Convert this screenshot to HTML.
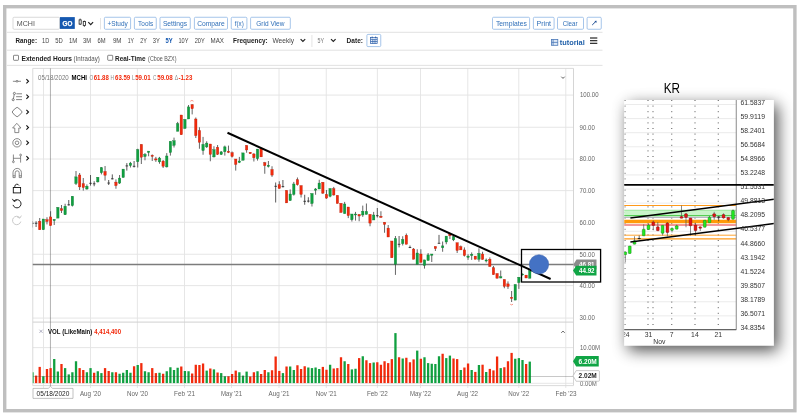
<!DOCTYPE html><html><head><meta charset="utf-8"><style>html,body{margin:0;padding:0;background:#fff;overflow:hidden}svg{display:block;filter:blur(0.3px)}text{font-family:"Liberation Sans",sans-serif}</style></head><body>
<svg width="800" height="415" viewBox="0 0 800 415">
<defs><filter id="sh" x="-30%" y="-20%" width="170%" height="150%"><feGaussianBlur in="SourceAlpha" stdDeviation="8"/><feOffset dx="3.5" dy="4.5"/><feComponentTransfer><feFuncA type="linear" slope="0.7"/></feComponentTransfer><feMerge><feMergeNode/><feMergeNode in="SourceGraphic"/></feMerge></filter>
<clipPath id="cc"><rect x="32.75" y="68.4" width="540.75" height="317.5"/></clipPath>
<clipPath id="kc"><rect x="624.25" y="100" width="149.5" height="245.5"/></clipPath></defs>
<rect x="0.00" y="0.00" width="800.00" height="415.00" fill="#fff" stroke="none" stroke-width="1" rx="0" />
<rect x="4.70" y="6.70" width="790.20" height="404.00" fill="none" stroke="#bfbfbf" stroke-width="3.4" rx="0" />
<line x1="7.00" y1="32.30" x2="602.50" y2="32.30" stroke="#dedede" stroke-width="0.9" />
<line x1="7.00" y1="50.20" x2="602.50" y2="50.20" stroke="#dedede" stroke-width="0.9" />
<line x1="7.00" y1="65.40" x2="602.50" y2="65.40" stroke="#dedede" stroke-width="0.9" />
<rect x="13.00" y="17.25" width="46.50" height="12.00" fill="#fff" stroke="#cfcfcf" stroke-width="0.8" rx="1.1" />
<text x="16.75" y="25.80" font-size="7.4" fill="#555" font-weight="normal" text-anchor="start" textLength="18.10" lengthAdjust="spacingAndGlyphs" >MCHI</text>
<rect x="59.90" y="17.10" width="14.90" height="11.80" fill="#1558b0" stroke="none" stroke-width="1" rx="0" />
<text x="62.50" y="26.00" font-size="7" fill="#fff" font-weight="bold" text-anchor="start" textLength="9.80" lengthAdjust="spacingAndGlyphs" stroke="#fff" stroke-width="0.25">GO</text>
<g stroke="#222" stroke-width="0.8" fill="#fff"><line x1="80.15" y1="18.6" x2="80.15" y2="25"/><rect x="79.1" y="19.9" width="2.1" height="4.2"/><line x1="84.35" y1="20.6" x2="84.35" y2="26.8"/><rect x="83.25" y="21.5" width="2.2" height="3.9"/></g>
<polyline points="88.3,22.2 90.7,24.6 93.1,22.2" fill="none" stroke="#222" stroke-width="1.2"/>
<line x1="100.50" y1="18.00" x2="100.50" y2="29.50" stroke="#ddd" stroke-width="0.8" />
<rect x="104.40" y="17.25" width="26.20" height="12.00" fill="#fff" stroke="#8fb6e4" stroke-width="0.8" rx="1.1" />
<text x="107.50" y="25.90" font-size="7.5" fill="#2f6fb8" font-weight="normal" text-anchor="start" textLength="20.25" lengthAdjust="spacingAndGlyphs" >+Study</text>
<rect x="134.40" y="17.25" width="21.85" height="12.00" fill="#fff" stroke="#8fb6e4" stroke-width="0.8" rx="1.1" />
<text x="138.10" y="25.90" font-size="7.5" fill="#2f6fb8" font-weight="normal" text-anchor="start" textLength="15.00" lengthAdjust="spacingAndGlyphs" >Tools</text>
<rect x="160.00" y="17.25" width="30.25" height="12.00" fill="#fff" stroke="#8fb6e4" stroke-width="0.8" rx="1.1" />
<text x="162.90" y="25.90" font-size="7.5" fill="#2f6fb8" font-weight="normal" text-anchor="start" textLength="24.20" lengthAdjust="spacingAndGlyphs" >Settings</text>
<rect x="194.40" y="17.25" width="33.10" height="12.00" fill="#fff" stroke="#8fb6e4" stroke-width="0.8" rx="1.1" />
<text x="197.25" y="25.90" font-size="7.5" fill="#2f6fb8" font-weight="normal" text-anchor="start" textLength="27.50" lengthAdjust="spacingAndGlyphs" >Compare</text>
<rect x="231.25" y="17.25" width="15.65" height="12.00" fill="#fff" stroke="#8fb6e4" stroke-width="0.8" rx="1.1" />
<text x="234.75" y="25.90" font-size="7.5" fill="#2f6fb8" font-weight="normal" text-anchor="start" textLength="9.00" lengthAdjust="spacingAndGlyphs" >f(x)</text>
<rect x="250.60" y="17.25" width="39.70" height="12.00" fill="#fff" stroke="#8fb6e4" stroke-width="0.8" rx="1.1" />
<text x="256.25" y="25.90" font-size="7.5" fill="#2f6fb8" font-weight="normal" text-anchor="start" textLength="28.15" lengthAdjust="spacingAndGlyphs" >Grid View</text>
<rect x="492.50" y="17.25" width="37.10" height="12.00" fill="#fff" stroke="#8fb6e4" stroke-width="0.8" rx="1.1" />
<text x="495.90" y="25.90" font-size="7.5" fill="#2f6fb8" font-weight="normal" text-anchor="start" textLength="30.90" lengthAdjust="spacingAndGlyphs" >Templates</text>
<rect x="533.40" y="17.25" width="20.70" height="12.00" fill="#fff" stroke="#8fb6e4" stroke-width="0.8" rx="1.1" />
<text x="536.60" y="25.90" font-size="7.5" fill="#2f6fb8" font-weight="normal" text-anchor="start" textLength="14.40" lengthAdjust="spacingAndGlyphs" >Print</text>
<rect x="557.50" y="17.25" width="26.00" height="12.00" fill="#fff" stroke="#8fb6e4" stroke-width="0.8" rx="1.1" />
<text x="562.75" y="25.90" font-size="7.5" fill="#2f6fb8" font-weight="normal" text-anchor="start" textLength="14.75" lengthAdjust="spacingAndGlyphs" >Clear</text>
<rect x="587.10" y="17.25" width="14.15" height="12.00" fill="#fff" stroke="#8fb6e4" stroke-width="0.8" rx="1.1" />
<path d="M592.2,25 L596,21.3" stroke="#1f4f95" stroke-width="1" fill="none"/><path d="M594.4,20.9 L596.6,20.7 L596.4,22.9 Z" fill="#1f4f95"/>
<text x="15.50" y="43.30" font-size="7.5" fill="#222" font-weight="bold" text-anchor="start" textLength="21.50" lengthAdjust="spacingAndGlyphs" >Range:</text>
<text x="42.00" y="43.40" font-size="7.5" fill="#444" font-weight="normal" text-anchor="start" textLength="7.25" lengthAdjust="spacingAndGlyphs" >1D</text>
<text x="55.25" y="43.40" font-size="7.5" fill="#444" font-weight="normal" text-anchor="start" textLength="7.50" lengthAdjust="spacingAndGlyphs" >5D</text>
<text x="69.00" y="43.40" font-size="7.5" fill="#444" font-weight="normal" text-anchor="start" textLength="8.40" lengthAdjust="spacingAndGlyphs" >1M</text>
<text x="83.00" y="43.40" font-size="7.5" fill="#444" font-weight="normal" text-anchor="start" textLength="8.00" lengthAdjust="spacingAndGlyphs" >3M</text>
<text x="97.40" y="43.40" font-size="7.5" fill="#444" font-weight="normal" text-anchor="start" textLength="8.10" lengthAdjust="spacingAndGlyphs" >6M</text>
<text x="112.90" y="43.40" font-size="7.5" fill="#444" font-weight="normal" text-anchor="start" textLength="8.60" lengthAdjust="spacingAndGlyphs" >9M</text>
<text x="127.75" y="43.40" font-size="7.5" fill="#444" font-weight="normal" text-anchor="start" textLength="6.25" lengthAdjust="spacingAndGlyphs" >1Y</text>
<text x="140.25" y="43.40" font-size="7.5" fill="#444" font-weight="normal" text-anchor="start" textLength="6.65" lengthAdjust="spacingAndGlyphs" >2Y</text>
<text x="152.75" y="43.40" font-size="7.5" fill="#444" font-weight="normal" text-anchor="start" textLength="7.00" lengthAdjust="spacingAndGlyphs" >3Y</text>
<text x="178.50" y="43.40" font-size="7.5" fill="#444" font-weight="normal" text-anchor="start" textLength="10.00" lengthAdjust="spacingAndGlyphs" >10Y</text>
<text x="194.75" y="43.40" font-size="7.5" fill="#444" font-weight="normal" text-anchor="start" textLength="10.00" lengthAdjust="spacingAndGlyphs" >20Y</text>
<text x="210.60" y="43.40" font-size="7.5" fill="#444" font-weight="normal" text-anchor="start" textLength="13.40" lengthAdjust="spacingAndGlyphs" >MAX</text>
<text x="165.60" y="43.30" font-size="7.5" fill="#1558b0" font-weight="bold" text-anchor="start" textLength="7.15" lengthAdjust="spacingAndGlyphs" >5Y</text>
<text x="233.10" y="43.30" font-size="7.5" fill="#222" font-weight="bold" text-anchor="start" textLength="34.65" lengthAdjust="spacingAndGlyphs" >Frequency:</text>
<text x="272.50" y="43.30" font-size="7.5" fill="#444" font-weight="normal" text-anchor="start" textLength="21.50" lengthAdjust="spacingAndGlyphs" >Weekly</text>
<polyline points="300.6,39.2 302.9,41.5 305.2,39.2" fill="none" stroke="#222" stroke-width="1.2"/>
<line x1="311.90" y1="35.00" x2="311.90" y2="47.00" stroke="#ddd" stroke-width="0.8" />
<text x="317.50" y="43.30" font-size="7" fill="#777" font-weight="normal" text-anchor="start" textLength="6.50" lengthAdjust="spacingAndGlyphs" >5Y</text>
<polyline points="331.0,39.2 333.3,41.5 335.6,39.2" fill="none" stroke="#222" stroke-width="1.2"/>
<text x="346.60" y="43.30" font-size="7.5" fill="#222" font-weight="bold" text-anchor="start" textLength="16.40" lengthAdjust="spacingAndGlyphs" >Date:</text>
<rect x="366.90" y="34.40" width="13.85" height="12.20" fill="#fff" stroke="#8fb6e4" stroke-width="0.8" rx="1.1" />
<g stroke="#2a5da8" stroke-width="0.7" fill="none"><rect x="370.6" y="37.6" width="6.6" height="6" fill="#e8f0fb"/><line x1="370.6" y1="39.4" x2="377.2" y2="39.4"/><line x1="372.8" y1="39.4" x2="372.8" y2="43.6"/><line x1="375" y1="39.4" x2="375" y2="43.6"/><line x1="370.6" y1="41.5" x2="377.2" y2="41.5"/><line x1="372.2" y1="36.6" x2="372.2" y2="38.2" stroke-width="1"/><line x1="375.6" y1="36.6" x2="375.6" y2="38.2" stroke-width="1"/></g>
<g stroke="#4a78b8" stroke-width="0.8" fill="#dfe9f6"><rect x="551.6" y="39.5" width="6.2" height="5.8"/><line x1="551.6" y1="42.4" x2="557.8" y2="42.4"/><line x1="553.1" y1="39.5" x2="553.1" y2="45.3"/></g>
<text x="559.75" y="45.00" font-size="7.5" fill="#1f5fa8" font-weight="bold" text-anchor="start" textLength="25.00" lengthAdjust="spacingAndGlyphs" >tutorial</text>
<line x1="590.00" y1="38.00" x2="597.30" y2="38.00" stroke="#111" stroke-width="1.1" />
<line x1="590.00" y1="40.70" x2="597.30" y2="40.70" stroke="#111" stroke-width="1.1" />
<line x1="590.00" y1="43.30" x2="597.30" y2="43.30" stroke="#111" stroke-width="1.1" />
<rect x="13.50" y="55.30" width="5.00" height="5.00" fill="#fff" stroke="#555" stroke-width="0.7" rx="0.6" />
<text x="21.50" y="60.60" font-size="7.5" fill="#222" font-weight="bold" text-anchor="start" textLength="50.50" lengthAdjust="spacingAndGlyphs" >Extended Hours</text>
<text x="73.60" y="60.50" font-size="6.5" fill="#555" font-weight="normal" text-anchor="start" textLength="26.30" lengthAdjust="spacingAndGlyphs" >(Intraday)</text>
<rect x="107.70" y="55.30" width="5.00" height="5.00" fill="#fff" stroke="#555" stroke-width="0.7" rx="0.6" />
<text x="115.00" y="60.60" font-size="7.5" fill="#222" font-weight="bold" text-anchor="start" textLength="30.60" lengthAdjust="spacingAndGlyphs" >Real-Time</text>
<text x="148.10" y="60.50" font-size="6.5" fill="#555" font-weight="normal" text-anchor="start" textLength="28.40" lengthAdjust="spacingAndGlyphs" >(Cboe BZX)</text>
<polyline points="26.4,79.20 28.5,81.30 26.4,83.40" fill="none" stroke="#111" stroke-width="1.1"/>
<polyline points="26.4,94.60 28.5,96.70 26.4,98.80" fill="none" stroke="#111" stroke-width="1.1"/>
<polyline points="26.4,109.90 28.5,112.00 26.4,114.10" fill="none" stroke="#111" stroke-width="1.1"/>
<polyline points="26.4,125.40 28.5,127.50 26.4,129.60" fill="none" stroke="#111" stroke-width="1.1"/>
<polyline points="26.4,140.70 28.5,142.80 26.4,144.90" fill="none" stroke="#111" stroke-width="1.1"/>
<polyline points="26.4,156.20 28.5,158.30 26.4,160.40" fill="none" stroke="#111" stroke-width="1.1"/>
<g stroke="#5a5a5a" stroke-width="0.7" fill="#fff"><line x1="12.9" y1="81.3" x2="21" y2="81.3"/><circle cx="17" cy="81.3" r="0.9"/></g>
<g stroke="#5a5a5a" stroke-width="0.75" fill="#fff"><line x1="13.3" y1="99.2" x2="14.3" y2="94"/><circle cx="13.2" cy="99.7" r="1.05"/><circle cx="14.4" cy="93.4" r="1.05"/><line x1="16.4" y1="93.8" x2="22" y2="93.8"/><line x1="16.1" y1="96.7" x2="22" y2="96.7"/><line x1="16.1" y1="99.6" x2="22" y2="99.6"/></g>
<g stroke="#5a5a5a" stroke-width="0.75" fill="#fff"><path d="M12.1,112 Q14.2,108.6 17.1,107.3 Q20,108.6 22.2,112 Q20,115.4 17.1,116.8 Q14.2,115.4 12.1,112 Z"/></g>
<path d="M16.8,123.3 L21,128 L18.8,128 L18.8,132.6 L14.8,132.6 L14.8,128 L12.6,128 Z" fill="#fff" stroke="#5a5a5a" stroke-width="0.7"/>
<g stroke="#5a5a5a" stroke-width="0.7" fill="#fff"><circle cx="17" cy="142.8" r="4.2"/><circle cx="17" cy="142.8" r="1.8"/></g>
<g stroke="#5a5a5a" stroke-width="0.7" fill="#fff"><line x1="13.4" y1="154.5" x2="13.4" y2="161"/><circle cx="13.4" cy="161.8" r="0.9"/><line x1="20.6" y1="155.8" x2="20.6" y2="162.6"/><circle cx="20.6" cy="155" r="0.9"/><line x1="13.4" y1="158.3" x2="20.6" y2="158.3"/></g>
<g stroke="#5a5a5a" stroke-width="0.7" fill="none"><path d="M13,177.6 L13,172.6 A4.2,4.2 0 0 1 21.4,172.6 L21.4,177.6 L19.2,177.6 L19.2,172.8 A2,2 0 0 0 15.2,172.8 L15.2,177.6 Z"/><line x1="13" y1="175.8" x2="15.2" y2="175.8"/><line x1="19.2" y1="175.8" x2="21.4" y2="175.8"/></g>
<g stroke="#111" stroke-width="0.9" fill="none"><rect x="13.3" y="187.5" width="7.3" height="5.4"/><path d="M14.8,187.5 L14.8,186.2 A2.2,2.2 0 0 1 19,185.5"/></g>
<g stroke="#111" stroke-width="0.9" fill="none"><path d="M14.0,200.9 A4.1,4.1 0 1 1 13.0,204.9"/><path d="M12.4,198.9 L14.0,201.5 L16.6,200.3" stroke-width="0.9"/></g>
<g stroke="#c4c4c4" stroke-width="0.9" fill="none"><path d="M19.8,217.6 A4.2,4.2 0 1 0 20.8,221.6"/><path d="M21.4,215.6 L19.8,218.2 L17.2,217"/></g>
<line x1="32.75" y1="95.10" x2="573.50" y2="95.10" stroke="#e3e3e3" stroke-width="0.9" />
<line x1="32.75" y1="127.25" x2="573.50" y2="127.25" stroke="#e3e3e3" stroke-width="0.9" />
<line x1="32.75" y1="159.00" x2="573.50" y2="159.00" stroke="#e3e3e3" stroke-width="0.9" />
<line x1="32.75" y1="190.60" x2="573.50" y2="190.60" stroke="#e3e3e3" stroke-width="0.9" />
<line x1="32.75" y1="222.25" x2="573.50" y2="222.25" stroke="#e3e3e3" stroke-width="0.9" />
<line x1="32.75" y1="254.25" x2="573.50" y2="254.25" stroke="#e3e3e3" stroke-width="0.9" />
<line x1="32.75" y1="285.60" x2="573.50" y2="285.60" stroke="#e3e3e3" stroke-width="0.9" />
<line x1="32.75" y1="318.10" x2="573.50" y2="318.10" stroke="#e3e3e3" stroke-width="0.9" />
<line x1="32.75" y1="347.60" x2="573.50" y2="347.60" stroke="#e3e3e3" stroke-width="0.9" />
<line x1="43.50" y1="68.40" x2="43.50" y2="388.00" stroke="#e3e3e3" stroke-width="0.9" />
<line x1="90.50" y1="68.40" x2="90.50" y2="388.00" stroke="#e3e3e3" stroke-width="0.9" />
<line x1="137.40" y1="68.40" x2="137.40" y2="388.00" stroke="#e3e3e3" stroke-width="0.9" />
<line x1="184.50" y1="68.40" x2="184.50" y2="388.00" stroke="#e3e3e3" stroke-width="0.9" />
<line x1="231.50" y1="68.40" x2="231.50" y2="388.00" stroke="#e3e3e3" stroke-width="0.9" />
<line x1="279.00" y1="68.40" x2="279.00" y2="388.00" stroke="#e3e3e3" stroke-width="0.9" />
<line x1="326.25" y1="68.40" x2="326.25" y2="388.00" stroke="#e3e3e3" stroke-width="0.9" />
<line x1="377.40" y1="68.40" x2="377.40" y2="388.00" stroke="#e3e3e3" stroke-width="0.9" />
<line x1="420.50" y1="68.40" x2="420.50" y2="388.00" stroke="#e3e3e3" stroke-width="0.9" />
<line x1="467.80" y1="68.40" x2="467.80" y2="388.00" stroke="#e3e3e3" stroke-width="0.9" />
<line x1="518.75" y1="68.40" x2="518.75" y2="388.00" stroke="#e3e3e3" stroke-width="0.9" />
<line x1="565.80" y1="68.40" x2="565.80" y2="388.00" stroke="#e3e3e3" stroke-width="0.9" />
<line x1="32.75" y1="68.40" x2="573.50" y2="68.40" stroke="#d6d6d6" stroke-width="0.9" />
<line x1="32.75" y1="68.40" x2="32.75" y2="385.60" stroke="#d6d6d6" stroke-width="0.9" />
<line x1="573.50" y1="68.40" x2="573.50" y2="385.60" stroke="#d0d0d0" stroke-width="0.9" />
<line x1="32.75" y1="322.10" x2="573.50" y2="322.10" stroke="#d0d0d0" stroke-width="1" />
<line x1="32.75" y1="383.30" x2="573.50" y2="383.30" stroke="#e0e0e0" stroke-width="0.8" />
<line x1="32.75" y1="385.60" x2="573.50" y2="385.60" stroke="#d6d6d6" stroke-width="0.9" />
<line x1="50.45" y1="68.40" x2="50.45" y2="388.00" stroke="#555" stroke-width="0.45" />
<line x1="32.75" y1="264.50" x2="573.50" y2="264.50" stroke="#7c7c7c" stroke-width="1.3" />
<g clip-path="url(#cc)">
<rect x="31.30" y="372.25" width="2.30" height="10.85" fill="#10a040" stroke="none" stroke-width="1" rx="0" />
<rect x="34.93" y="375.60" width="2.30" height="7.50" fill="#f22a0c" stroke="none" stroke-width="1" rx="0" />
<rect x="38.56" y="366.90" width="2.30" height="16.20" fill="#f22a0c" stroke="none" stroke-width="1" rx="0" />
<rect x="42.19" y="376.25" width="2.30" height="6.85" fill="#10a040" stroke="none" stroke-width="1" rx="0" />
<rect x="45.82" y="369.00" width="2.30" height="14.10" fill="#f22a0c" stroke="none" stroke-width="1" rx="0" />
<rect x="49.45" y="368.10" width="2.30" height="15.00" fill="#f22a0c" stroke="none" stroke-width="1" rx="0" />
<rect x="53.08" y="359.00" width="2.30" height="24.10" fill="#10a040" stroke="none" stroke-width="1" rx="0" />
<rect x="56.71" y="371.50" width="2.30" height="11.60" fill="#10a040" stroke="none" stroke-width="1" rx="0" />
<rect x="60.34" y="364.00" width="2.30" height="19.10" fill="#f22a0c" stroke="none" stroke-width="1" rx="0" />
<rect x="63.97" y="368.10" width="2.30" height="15.00" fill="#10a040" stroke="none" stroke-width="1" rx="0" />
<rect x="67.60" y="374.40" width="2.30" height="8.70" fill="#10a040" stroke="none" stroke-width="1" rx="0" />
<rect x="71.23" y="372.25" width="2.30" height="10.85" fill="#10a040" stroke="none" stroke-width="1" rx="0" />
<rect x="74.86" y="361.25" width="2.30" height="21.85" fill="#10a040" stroke="none" stroke-width="1" rx="0" />
<rect x="78.49" y="368.10" width="2.30" height="15.00" fill="#f22a0c" stroke="none" stroke-width="1" rx="0" />
<rect x="82.12" y="370.00" width="2.30" height="13.10" fill="#f22a0c" stroke="none" stroke-width="1" rx="0" />
<rect x="85.75" y="372.25" width="2.30" height="10.85" fill="#10a040" stroke="none" stroke-width="1" rx="0" />
<rect x="89.38" y="368.10" width="2.30" height="15.00" fill="#10a040" stroke="none" stroke-width="1" rx="0" />
<rect x="93.01" y="372.75" width="2.30" height="10.35" fill="#f22a0c" stroke="none" stroke-width="1" rx="0" />
<rect x="96.64" y="371.25" width="2.30" height="11.85" fill="#10a040" stroke="none" stroke-width="1" rx="0" />
<rect x="100.27" y="373.10" width="2.30" height="10.00" fill="#10a040" stroke="none" stroke-width="1" rx="0" />
<rect x="103.90" y="368.10" width="2.30" height="15.00" fill="#f22a0c" stroke="none" stroke-width="1" rx="0" />
<rect x="107.53" y="371.00" width="2.30" height="12.10" fill="#f22a0c" stroke="none" stroke-width="1" rx="0" />
<rect x="111.16" y="372.25" width="2.30" height="10.85" fill="#10a040" stroke="none" stroke-width="1" rx="0" />
<rect x="114.79" y="372.25" width="2.30" height="10.85" fill="#f22a0c" stroke="none" stroke-width="1" rx="0" />
<rect x="118.42" y="373.75" width="2.30" height="9.35" fill="#10a040" stroke="none" stroke-width="1" rx="0" />
<rect x="122.05" y="372.75" width="2.30" height="10.35" fill="#10a040" stroke="none" stroke-width="1" rx="0" />
<rect x="125.68" y="370.00" width="2.30" height="13.10" fill="#10a040" stroke="none" stroke-width="1" rx="0" />
<rect x="129.31" y="372.75" width="2.30" height="10.35" fill="#10a040" stroke="none" stroke-width="1" rx="0" />
<rect x="132.94" y="366.25" width="2.30" height="16.85" fill="#f22a0c" stroke="none" stroke-width="1" rx="0" />
<rect x="136.57" y="365.00" width="2.30" height="18.10" fill="#10a040" stroke="none" stroke-width="1" rx="0" />
<rect x="140.20" y="363.10" width="2.30" height="20.00" fill="#f22a0c" stroke="none" stroke-width="1" rx="0" />
<rect x="143.83" y="371.25" width="2.30" height="11.85" fill="#10a040" stroke="none" stroke-width="1" rx="0" />
<rect x="147.46" y="372.25" width="2.30" height="10.85" fill="#10a040" stroke="none" stroke-width="1" rx="0" />
<rect x="151.09" y="368.10" width="2.30" height="15.00" fill="#f22a0c" stroke="none" stroke-width="1" rx="0" />
<rect x="154.72" y="373.10" width="2.30" height="10.00" fill="#f22a0c" stroke="none" stroke-width="1" rx="0" />
<rect x="158.35" y="372.75" width="2.30" height="10.35" fill="#10a040" stroke="none" stroke-width="1" rx="0" />
<rect x="161.98" y="373.75" width="2.30" height="9.35" fill="#f22a0c" stroke="none" stroke-width="1" rx="0" />
<rect x="165.61" y="371.25" width="2.30" height="11.85" fill="#10a040" stroke="none" stroke-width="1" rx="0" />
<rect x="169.24" y="367.25" width="2.30" height="15.85" fill="#10a040" stroke="none" stroke-width="1" rx="0" />
<rect x="172.87" y="370.00" width="2.30" height="13.10" fill="#10a040" stroke="none" stroke-width="1" rx="0" />
<rect x="176.50" y="367.75" width="2.30" height="15.35" fill="#10a040" stroke="none" stroke-width="1" rx="0" />
<rect x="180.13" y="366.50" width="2.30" height="16.60" fill="#f22a0c" stroke="none" stroke-width="1" rx="0" />
<rect x="183.76" y="371.00" width="2.30" height="12.10" fill="#10a040" stroke="none" stroke-width="1" rx="0" />
<rect x="187.39" y="371.25" width="2.30" height="11.85" fill="#10a040" stroke="none" stroke-width="1" rx="0" />
<rect x="191.02" y="373.50" width="2.30" height="9.60" fill="#f22a0c" stroke="none" stroke-width="1" rx="0" />
<rect x="194.65" y="364.75" width="2.30" height="18.35" fill="#f22a0c" stroke="none" stroke-width="1" rx="0" />
<rect x="198.28" y="365.00" width="2.30" height="18.10" fill="#f22a0c" stroke="none" stroke-width="1" rx="0" />
<rect x="201.91" y="363.50" width="2.30" height="19.60" fill="#f22a0c" stroke="none" stroke-width="1" rx="0" />
<rect x="205.54" y="370.60" width="2.30" height="12.50" fill="#10a040" stroke="none" stroke-width="1" rx="0" />
<rect x="209.17" y="368.50" width="2.30" height="14.60" fill="#f22a0c" stroke="none" stroke-width="1" rx="0" />
<rect x="212.80" y="369.40" width="2.30" height="13.70" fill="#10a040" stroke="none" stroke-width="1" rx="0" />
<rect x="216.43" y="372.50" width="2.30" height="10.60" fill="#f22a0c" stroke="none" stroke-width="1" rx="0" />
<rect x="220.06" y="373.10" width="2.30" height="10.00" fill="#10a040" stroke="none" stroke-width="1" rx="0" />
<rect x="223.69" y="376.25" width="2.30" height="6.85" fill="#10a040" stroke="none" stroke-width="1" rx="0" />
<rect x="227.32" y="376.25" width="2.30" height="6.85" fill="#f22a0c" stroke="none" stroke-width="1" rx="0" />
<rect x="230.95" y="374.00" width="2.30" height="9.10" fill="#f22a0c" stroke="none" stroke-width="1" rx="0" />
<rect x="234.58" y="370.60" width="2.30" height="12.50" fill="#f22a0c" stroke="none" stroke-width="1" rx="0" />
<rect x="238.21" y="372.25" width="2.30" height="10.85" fill="#10a040" stroke="none" stroke-width="1" rx="0" />
<rect x="241.84" y="375.60" width="2.30" height="7.50" fill="#10a040" stroke="none" stroke-width="1" rx="0" />
<rect x="245.47" y="371.60" width="2.30" height="11.50" fill="#10a040" stroke="none" stroke-width="1" rx="0" />
<rect x="249.10" y="376.50" width="2.30" height="6.60" fill="#f22a0c" stroke="none" stroke-width="1" rx="0" />
<rect x="252.73" y="372.25" width="2.30" height="10.85" fill="#f22a0c" stroke="none" stroke-width="1" rx="0" />
<rect x="256.36" y="371.25" width="2.30" height="11.85" fill="#10a040" stroke="none" stroke-width="1" rx="0" />
<rect x="259.99" y="374.00" width="2.30" height="9.10" fill="#f22a0c" stroke="none" stroke-width="1" rx="0" />
<rect x="263.62" y="370.00" width="2.30" height="13.10" fill="#f22a0c" stroke="none" stroke-width="1" rx="0" />
<rect x="267.25" y="372.25" width="2.30" height="10.85" fill="#10a040" stroke="none" stroke-width="1" rx="0" />
<rect x="270.88" y="370.25" width="2.30" height="12.85" fill="#f22a0c" stroke="none" stroke-width="1" rx="0" />
<rect x="274.51" y="356.50" width="2.30" height="26.60" fill="#f22a0c" stroke="none" stroke-width="1" rx="0" />
<rect x="278.14" y="370.90" width="2.30" height="12.20" fill="#f22a0c" stroke="none" stroke-width="1" rx="0" />
<rect x="281.77" y="373.10" width="2.30" height="10.00" fill="#10a040" stroke="none" stroke-width="1" rx="0" />
<rect x="285.40" y="366.50" width="2.30" height="16.60" fill="#f22a0c" stroke="none" stroke-width="1" rx="0" />
<rect x="289.03" y="366.50" width="2.30" height="16.60" fill="#10a040" stroke="none" stroke-width="1" rx="0" />
<rect x="292.66" y="370.00" width="2.30" height="13.10" fill="#10a040" stroke="none" stroke-width="1" rx="0" />
<rect x="296.29" y="365.25" width="2.30" height="17.85" fill="#f22a0c" stroke="none" stroke-width="1" rx="0" />
<rect x="299.92" y="369.00" width="2.30" height="14.10" fill="#f22a0c" stroke="none" stroke-width="1" rx="0" />
<rect x="303.55" y="366.25" width="2.30" height="16.85" fill="#f22a0c" stroke="none" stroke-width="1" rx="0" />
<rect x="307.18" y="367.50" width="2.30" height="15.60" fill="#10a040" stroke="none" stroke-width="1" rx="0" />
<rect x="310.81" y="368.10" width="2.30" height="15.00" fill="#10a040" stroke="none" stroke-width="1" rx="0" />
<rect x="314.44" y="367.50" width="2.30" height="15.60" fill="#10a040" stroke="none" stroke-width="1" rx="0" />
<rect x="318.07" y="369.00" width="2.30" height="14.10" fill="#10a040" stroke="none" stroke-width="1" rx="0" />
<rect x="321.70" y="366.90" width="2.30" height="16.20" fill="#f22a0c" stroke="none" stroke-width="1" rx="0" />
<rect x="325.33" y="369.75" width="2.30" height="13.35" fill="#f22a0c" stroke="none" stroke-width="1" rx="0" />
<rect x="328.96" y="364.75" width="2.30" height="18.35" fill="#10a040" stroke="none" stroke-width="1" rx="0" />
<rect x="332.59" y="368.50" width="2.30" height="14.60" fill="#f22a0c" stroke="none" stroke-width="1" rx="0" />
<rect x="336.22" y="368.10" width="2.30" height="15.00" fill="#f22a0c" stroke="none" stroke-width="1" rx="0" />
<rect x="339.85" y="357.25" width="2.30" height="25.85" fill="#f22a0c" stroke="none" stroke-width="1" rx="0" />
<rect x="343.48" y="361.25" width="2.30" height="21.85" fill="#10a040" stroke="none" stroke-width="1" rx="0" />
<rect x="347.11" y="364.00" width="2.30" height="19.10" fill="#f22a0c" stroke="none" stroke-width="1" rx="0" />
<rect x="350.74" y="369.40" width="2.30" height="13.70" fill="#10a040" stroke="none" stroke-width="1" rx="0" />
<rect x="354.37" y="368.75" width="2.30" height="14.35" fill="#10a040" stroke="none" stroke-width="1" rx="0" />
<rect x="358.00" y="358.10" width="2.30" height="25.00" fill="#f22a0c" stroke="none" stroke-width="1" rx="0" />
<rect x="361.63" y="356.25" width="2.30" height="26.85" fill="#10a040" stroke="none" stroke-width="1" rx="0" />
<rect x="365.26" y="360.25" width="2.30" height="22.85" fill="#f22a0c" stroke="none" stroke-width="1" rx="0" />
<rect x="368.89" y="363.10" width="2.30" height="20.00" fill="#f22a0c" stroke="none" stroke-width="1" rx="0" />
<rect x="372.52" y="362.50" width="2.30" height="20.60" fill="#10a040" stroke="none" stroke-width="1" rx="0" />
<rect x="376.15" y="362.25" width="2.30" height="20.85" fill="#f22a0c" stroke="none" stroke-width="1" rx="0" />
<rect x="379.78" y="364.75" width="2.30" height="18.35" fill="#f22a0c" stroke="none" stroke-width="1" rx="0" />
<rect x="383.41" y="361.25" width="2.30" height="21.85" fill="#f22a0c" stroke="none" stroke-width="1" rx="0" />
<rect x="387.04" y="363.10" width="2.30" height="20.00" fill="#f22a0c" stroke="none" stroke-width="1" rx="0" />
<rect x="390.67" y="359.10" width="2.30" height="24.00" fill="#f22a0c" stroke="none" stroke-width="1" rx="0" />
<rect x="394.30" y="333.10" width="2.30" height="50.00" fill="#10a040" stroke="none" stroke-width="1" rx="0" />
<rect x="397.93" y="357.25" width="2.30" height="25.85" fill="#f22a0c" stroke="none" stroke-width="1" rx="0" />
<rect x="401.56" y="358.50" width="2.30" height="24.60" fill="#10a040" stroke="none" stroke-width="1" rx="0" />
<rect x="405.19" y="357.75" width="2.30" height="25.35" fill="#f22a0c" stroke="none" stroke-width="1" rx="0" />
<rect x="408.82" y="362.25" width="2.30" height="20.85" fill="#f22a0c" stroke="none" stroke-width="1" rx="0" />
<rect x="412.45" y="359.40" width="2.30" height="23.70" fill="#f22a0c" stroke="none" stroke-width="1" rx="0" />
<rect x="416.08" y="350.60" width="2.30" height="32.50" fill="#10a040" stroke="none" stroke-width="1" rx="0" />
<rect x="419.71" y="358.75" width="2.30" height="24.35" fill="#f22a0c" stroke="none" stroke-width="1" rx="0" />
<rect x="423.34" y="357.25" width="2.30" height="25.85" fill="#10a040" stroke="none" stroke-width="1" rx="0" />
<rect x="426.97" y="363.10" width="2.30" height="20.00" fill="#10a040" stroke="none" stroke-width="1" rx="0" />
<rect x="430.60" y="363.75" width="2.30" height="19.35" fill="#10a040" stroke="none" stroke-width="1" rx="0" />
<rect x="434.23" y="364.00" width="2.30" height="19.10" fill="#10a040" stroke="none" stroke-width="1" rx="0" />
<rect x="437.86" y="356.25" width="2.30" height="26.85" fill="#10a040" stroke="none" stroke-width="1" rx="0" />
<rect x="441.49" y="353.75" width="2.30" height="29.35" fill="#f22a0c" stroke="none" stroke-width="1" rx="0" />
<rect x="445.12" y="358.10" width="2.30" height="25.00" fill="#10a040" stroke="none" stroke-width="1" rx="0" />
<rect x="448.75" y="355.60" width="2.30" height="27.50" fill="#10a040" stroke="none" stroke-width="1" rx="0" />
<rect x="452.38" y="358.50" width="2.30" height="24.60" fill="#f22a0c" stroke="none" stroke-width="1" rx="0" />
<rect x="456.01" y="359.10" width="2.30" height="24.00" fill="#f22a0c" stroke="none" stroke-width="1" rx="0" />
<rect x="459.64" y="370.00" width="2.30" height="13.10" fill="#10a040" stroke="none" stroke-width="1" rx="0" />
<rect x="463.27" y="367.50" width="2.30" height="15.60" fill="#f22a0c" stroke="none" stroke-width="1" rx="0" />
<rect x="466.90" y="363.50" width="2.30" height="19.60" fill="#f22a0c" stroke="none" stroke-width="1" rx="0" />
<rect x="470.53" y="370.00" width="2.30" height="13.10" fill="#10a040" stroke="none" stroke-width="1" rx="0" />
<rect x="474.16" y="371.90" width="2.30" height="11.20" fill="#f22a0c" stroke="none" stroke-width="1" rx="0" />
<rect x="477.79" y="365.00" width="2.30" height="18.10" fill="#10a040" stroke="none" stroke-width="1" rx="0" />
<rect x="481.42" y="364.70" width="2.30" height="18.40" fill="#f22a0c" stroke="none" stroke-width="1" rx="0" />
<rect x="485.05" y="372.00" width="2.30" height="11.10" fill="#10a040" stroke="none" stroke-width="1" rx="0" />
<rect x="488.68" y="368.90" width="2.30" height="14.20" fill="#f22a0c" stroke="none" stroke-width="1" rx="0" />
<rect x="492.31" y="370.40" width="2.30" height="12.70" fill="#f22a0c" stroke="none" stroke-width="1" rx="0" />
<rect x="495.94" y="356.50" width="2.30" height="26.60" fill="#f22a0c" stroke="none" stroke-width="1" rx="0" />
<rect x="499.57" y="368.10" width="2.30" height="15.00" fill="#10a040" stroke="none" stroke-width="1" rx="0" />
<rect x="503.20" y="367.25" width="2.30" height="15.85" fill="#f22a0c" stroke="none" stroke-width="1" rx="0" />
<rect x="506.83" y="361.25" width="2.30" height="21.85" fill="#f22a0c" stroke="none" stroke-width="1" rx="0" />
<rect x="510.46" y="352.90" width="2.30" height="30.20" fill="#f22a0c" stroke="none" stroke-width="1" rx="0" />
<rect x="514.09" y="358.75" width="2.30" height="24.35" fill="#10a040" stroke="none" stroke-width="1" rx="0" />
<rect x="517.72" y="358.10" width="2.30" height="25.00" fill="#10a040" stroke="none" stroke-width="1" rx="0" />
<rect x="521.35" y="360.00" width="2.30" height="23.10" fill="#10a040" stroke="none" stroke-width="1" rx="0" />
<rect x="524.98" y="364.00" width="2.30" height="19.10" fill="#f22a0c" stroke="none" stroke-width="1" rx="0" />
<rect x="528.61" y="361.60" width="2.30" height="21.50" fill="#10a040" stroke="none" stroke-width="1" rx="0" />
<line x1="32.75" y1="376.40" x2="573.50" y2="376.40" stroke="#444" stroke-width="0.55" opacity="0.6"/>
<line x1="32.45" y1="221.00" x2="32.45" y2="227.50" stroke="#222" stroke-width="0.75" />
<line x1="31.15" y1="223.30" x2="33.75" y2="223.30" stroke="#222" stroke-width="0.8" />
<line x1="36.08" y1="221.25" x2="36.08" y2="227.00" stroke="#222" stroke-width="0.75" />
<line x1="34.78" y1="223.30" x2="37.38" y2="223.30" stroke="#222" stroke-width="0.8" />
<line x1="39.71" y1="218.00" x2="39.71" y2="229.75" stroke="#333" stroke-width="0.75" />
<rect x="38.51" y="221.25" width="2.40" height="8.50" fill="#f22a0c" stroke="#b81d08" stroke-width="0.35" rx="0" />
<line x1="43.34" y1="219.00" x2="43.34" y2="229.75" stroke="#333" stroke-width="0.75" />
<rect x="42.14" y="219.00" width="2.40" height="10.75" fill="#10a040" stroke="#0b7a30" stroke-width="0.35" rx="0" />
<line x1="46.97" y1="217.25" x2="46.97" y2="224.40" stroke="#333" stroke-width="0.75" />
<rect x="45.77" y="219.75" width="2.40" height="1.75" fill="#f22a0c" stroke="#b81d08" stroke-width="0.35" rx="0" />
<line x1="50.60" y1="211.25" x2="50.60" y2="225.60" stroke="#333" stroke-width="0.75" />
<rect x="49.40" y="216.90" width="2.40" height="8.70" fill="#f22a0c" stroke="#b81d08" stroke-width="0.35" rx="0" />
<line x1="54.23" y1="219.40" x2="54.23" y2="225.00" stroke="#333" stroke-width="0.75" />
<rect x="53.03" y="219.40" width="2.40" height="1.20" fill="#10a040" stroke="#0b7a30" stroke-width="0.35" rx="0" />
<line x1="57.86" y1="207.00" x2="57.86" y2="218.10" stroke="#333" stroke-width="0.75" />
<rect x="56.66" y="207.50" width="2.40" height="10.60" fill="#10a040" stroke="#0b7a30" stroke-width="0.35" rx="0" />
<line x1="61.49" y1="205.00" x2="61.49" y2="213.00" stroke="#333" stroke-width="0.75" />
<rect x="60.29" y="208.75" width="2.40" height="1.85" fill="#f22a0c" stroke="#b81d08" stroke-width="0.35" rx="0" />
<line x1="65.12" y1="203.75" x2="65.12" y2="214.75" stroke="#333" stroke-width="0.75" />
<rect x="63.92" y="206.25" width="2.40" height="8.50" fill="#10a040" stroke="#0b7a30" stroke-width="0.35" rx="0" />
<line x1="68.75" y1="200.00" x2="68.75" y2="205.60" stroke="#222" stroke-width="0.75" />
<line x1="67.45" y1="204.80" x2="70.05" y2="204.80" stroke="#222" stroke-width="0.8" />
<line x1="72.38" y1="196.25" x2="72.38" y2="206.50" stroke="#333" stroke-width="0.75" />
<rect x="71.18" y="196.25" width="2.40" height="9.35" fill="#10a040" stroke="#0b7a30" stroke-width="0.35" rx="0" />
<line x1="76.01" y1="171.00" x2="76.01" y2="185.00" stroke="#333" stroke-width="0.75" />
<rect x="74.81" y="176.90" width="2.40" height="6.60" fill="#10a040" stroke="#0b7a30" stroke-width="0.35" rx="0" />
<line x1="79.64" y1="173.00" x2="79.64" y2="190.00" stroke="#333" stroke-width="0.75" />
<rect x="78.44" y="175.00" width="2.40" height="11.90" fill="#f22a0c" stroke="#b81d08" stroke-width="0.35" rx="0" />
<line x1="83.27" y1="178.00" x2="83.27" y2="190.60" stroke="#333" stroke-width="0.75" />
<rect x="82.07" y="183.75" width="2.40" height="3.75" fill="#f22a0c" stroke="#b81d08" stroke-width="0.35" rx="0" />
<line x1="86.90" y1="184.40" x2="86.90" y2="189.75" stroke="#333" stroke-width="0.75" />
<rect x="85.70" y="186.25" width="2.40" height="2.75" fill="#10a040" stroke="#0b7a30" stroke-width="0.35" rx="0" />
<line x1="90.53" y1="175.00" x2="90.53" y2="185.60" stroke="#222" stroke-width="0.75" />
<line x1="89.23" y1="183.30" x2="91.83" y2="183.30" stroke="#222" stroke-width="0.8" />
<line x1="94.16" y1="181.25" x2="94.16" y2="186.25" stroke="#222" stroke-width="0.75" />
<line x1="92.86" y1="183.80" x2="95.46" y2="183.80" stroke="#222" stroke-width="0.8" />
<line x1="97.79" y1="177.25" x2="97.79" y2="182.50" stroke="#333" stroke-width="0.75" />
<rect x="96.59" y="177.25" width="2.40" height="4.65" fill="#10a040" stroke="#0b7a30" stroke-width="0.35" rx="0" />
<line x1="101.42" y1="167.00" x2="101.42" y2="174.40" stroke="#333" stroke-width="0.75" />
<rect x="100.22" y="167.75" width="2.40" height="5.00" fill="#10a040" stroke="#0b7a30" stroke-width="0.35" rx="0" />
<line x1="105.05" y1="166.00" x2="105.05" y2="180.60" stroke="#333" stroke-width="0.75" />
<rect x="103.85" y="171.50" width="2.40" height="3.75" fill="#f22a0c" stroke="#b81d08" stroke-width="0.35" rx="0" />
<line x1="108.68" y1="180.00" x2="108.68" y2="185.00" stroke="#222" stroke-width="0.75" />
<line x1="107.38" y1="183.05" x2="109.98" y2="183.05" stroke="#222" stroke-width="0.8" />
<line x1="112.31" y1="174.40" x2="112.31" y2="179.40" stroke="#222" stroke-width="0.75" />
<line x1="111.01" y1="178.80" x2="113.61" y2="178.80" stroke="#222" stroke-width="0.8" />
<line x1="115.94" y1="179.40" x2="115.94" y2="188.75" stroke="#333" stroke-width="0.75" />
<rect x="114.74" y="182.10" width="2.40" height="3.50" fill="#f22a0c" stroke="#b81d08" stroke-width="0.35" rx="0" />
<line x1="119.57" y1="175.00" x2="119.57" y2="184.00" stroke="#333" stroke-width="0.75" />
<rect x="118.37" y="178.10" width="2.40" height="5.00" fill="#10a040" stroke="#0b7a30" stroke-width="0.35" rx="0" />
<line x1="123.20" y1="169.10" x2="123.20" y2="177.50" stroke="#333" stroke-width="0.75" />
<rect x="122.00" y="169.10" width="2.40" height="8.40" fill="#10a040" stroke="#0b7a30" stroke-width="0.35" rx="0" />
<line x1="126.83" y1="163.10" x2="126.83" y2="170.60" stroke="#222" stroke-width="0.75" />
<line x1="125.53" y1="165.90" x2="128.13" y2="165.90" stroke="#222" stroke-width="0.8" />
<line x1="130.46" y1="161.90" x2="130.46" y2="167.50" stroke="#333" stroke-width="0.75" />
<rect x="129.26" y="163.10" width="2.40" height="2.50" fill="#10a040" stroke="#0b7a30" stroke-width="0.35" rx="0" />
<line x1="134.09" y1="161.00" x2="134.09" y2="167.50" stroke="#222" stroke-width="0.75" />
<line x1="132.79" y1="166.30" x2="135.39" y2="166.30" stroke="#222" stroke-width="0.8" />
<line x1="137.72" y1="148.75" x2="137.72" y2="167.50" stroke="#333" stroke-width="0.75" />
<rect x="136.52" y="149.75" width="2.40" height="11.95" fill="#10a040" stroke="#0b7a30" stroke-width="0.35" rx="0" />
<line x1="141.35" y1="144.40" x2="141.35" y2="164.00" stroke="#333" stroke-width="0.75" />
<rect x="140.15" y="144.40" width="2.40" height="12.80" fill="#f22a0c" stroke="#b81d08" stroke-width="0.35" rx="0" />
<line x1="144.98" y1="153.00" x2="144.98" y2="160.30" stroke="#333" stroke-width="0.75" />
<rect x="143.78" y="154.40" width="2.40" height="2.10" fill="#10a040" stroke="#0b7a30" stroke-width="0.35" rx="0" />
<line x1="148.61" y1="151.10" x2="148.61" y2="156.25" stroke="#333" stroke-width="0.75" />
<rect x="147.41" y="151.10" width="2.40" height="1.40" fill="#10a040" stroke="#0b7a30" stroke-width="0.35" rx="0" />
<line x1="152.24" y1="154.40" x2="152.24" y2="161.00" stroke="#333" stroke-width="0.75" />
<rect x="151.04" y="155.30" width="2.40" height="1.10" fill="#f22a0c" stroke="#b81d08" stroke-width="0.35" rx="0" />
<line x1="155.87" y1="156.90" x2="155.87" y2="161.90" stroke="#333" stroke-width="0.75" />
<rect x="154.67" y="158.90" width="2.40" height="1.10" fill="#f22a0c" stroke="#b81d08" stroke-width="0.35" rx="0" />
<line x1="159.50" y1="156.90" x2="159.50" y2="163.75" stroke="#333" stroke-width="0.75" />
<rect x="158.30" y="158.00" width="2.40" height="3.90" fill="#10a040" stroke="#0b7a30" stroke-width="0.35" rx="0" />
<line x1="163.13" y1="160.00" x2="163.13" y2="168.00" stroke="#333" stroke-width="0.75" />
<rect x="161.93" y="161.10" width="2.40" height="5.15" fill="#f22a0c" stroke="#b81d08" stroke-width="0.35" rx="0" />
<line x1="166.76" y1="153.10" x2="166.76" y2="167.50" stroke="#333" stroke-width="0.75" />
<rect x="165.56" y="156.00" width="2.40" height="10.90" fill="#10a040" stroke="#0b7a30" stroke-width="0.35" rx="0" />
<line x1="170.39" y1="141.40" x2="170.39" y2="155.60" stroke="#333" stroke-width="0.75" />
<rect x="169.19" y="141.40" width="2.40" height="11.10" fill="#10a040" stroke="#0b7a30" stroke-width="0.35" rx="0" />
<line x1="174.02" y1="137.60" x2="174.02" y2="147.50" stroke="#333" stroke-width="0.75" />
<rect x="172.82" y="140.80" width="2.40" height="4.50" fill="#10a040" stroke="#0b7a30" stroke-width="0.35" rx="0" />
<line x1="177.65" y1="121.90" x2="177.65" y2="131.25" stroke="#333" stroke-width="0.75" />
<rect x="176.45" y="123.75" width="2.40" height="7.50" fill="#10a040" stroke="#0b7a30" stroke-width="0.35" rx="0" />
<line x1="181.28" y1="115.00" x2="181.28" y2="134.75" stroke="#333" stroke-width="0.75" />
<rect x="180.08" y="115.00" width="2.40" height="19.75" fill="#f22a0c" stroke="#b81d08" stroke-width="0.35" rx="0" />
<line x1="184.91" y1="119.40" x2="184.91" y2="128.50" stroke="#333" stroke-width="0.75" />
<rect x="183.71" y="119.40" width="2.40" height="9.10" fill="#10a040" stroke="#0b7a30" stroke-width="0.35" rx="0" />
<line x1="188.54" y1="105.00" x2="188.54" y2="119.00" stroke="#333" stroke-width="0.75" />
<rect x="187.34" y="106.90" width="2.40" height="12.10" fill="#10a040" stroke="#0b7a30" stroke-width="0.35" rx="0" />
<line x1="192.17" y1="104.00" x2="192.17" y2="114.40" stroke="#333" stroke-width="0.75" />
<rect x="190.97" y="104.75" width="2.40" height="4.00" fill="#f22a0c" stroke="#b81d08" stroke-width="0.35" rx="0" />
<line x1="195.80" y1="117.50" x2="195.80" y2="138.00" stroke="#333" stroke-width="0.75" />
<rect x="194.60" y="119.00" width="2.40" height="16.60" fill="#f22a0c" stroke="#b81d08" stroke-width="0.35" rx="0" />
<line x1="199.43" y1="127.25" x2="199.43" y2="148.75" stroke="#333" stroke-width="0.75" />
<rect x="198.23" y="130.60" width="2.40" height="11.65" fill="#f22a0c" stroke="#b81d08" stroke-width="0.35" rx="0" />
<line x1="203.06" y1="136.90" x2="203.06" y2="154.75" stroke="#333" stroke-width="0.75" />
<rect x="201.86" y="144.40" width="2.40" height="6.20" fill="#10a040" stroke="#0b7a30" stroke-width="0.35" rx="0" />
<line x1="206.69" y1="141.25" x2="206.69" y2="148.00" stroke="#333" stroke-width="0.75" />
<rect x="205.49" y="143.10" width="2.40" height="3.80" fill="#10a040" stroke="#0b7a30" stroke-width="0.35" rx="0" />
<line x1="210.32" y1="144.00" x2="210.32" y2="161.25" stroke="#333" stroke-width="0.75" />
<rect x="209.12" y="144.00" width="2.40" height="10.40" fill="#f22a0c" stroke="#b81d08" stroke-width="0.35" rx="0" />
<line x1="213.95" y1="146.25" x2="213.95" y2="157.50" stroke="#333" stroke-width="0.75" />
<rect x="212.75" y="149.75" width="2.40" height="7.15" fill="#10a040" stroke="#0b7a30" stroke-width="0.35" rx="0" />
<line x1="217.58" y1="145.00" x2="217.58" y2="155.00" stroke="#333" stroke-width="0.75" />
<rect x="216.38" y="147.25" width="2.40" height="7.15" fill="#f22a0c" stroke="#b81d08" stroke-width="0.35" rx="0" />
<line x1="221.21" y1="151.00" x2="221.21" y2="155.00" stroke="#333" stroke-width="0.75" />
<rect x="220.01" y="151.90" width="2.40" height="2.50" fill="#10a040" stroke="#0b7a30" stroke-width="0.35" rx="0" />
<line x1="224.84" y1="145.60" x2="224.84" y2="155.60" stroke="#333" stroke-width="0.75" />
<rect x="223.64" y="146.90" width="2.40" height="4.80" fill="#10a040" stroke="#0b7a30" stroke-width="0.35" rx="0" />
<line x1="228.47" y1="145.60" x2="228.47" y2="153.10" stroke="#333" stroke-width="0.75" />
<rect x="227.27" y="151.25" width="2.40" height="1.25" fill="#f22a0c" stroke="#b81d08" stroke-width="0.35" rx="0" />
<line x1="232.10" y1="151.50" x2="232.10" y2="157.50" stroke="#333" stroke-width="0.75" />
<rect x="230.90" y="152.75" width="2.40" height="3.75" fill="#f22a0c" stroke="#b81d08" stroke-width="0.35" rx="0" />
<line x1="235.73" y1="159.00" x2="235.73" y2="170.60" stroke="#333" stroke-width="0.75" />
<rect x="234.53" y="159.00" width="2.40" height="5.40" fill="#f22a0c" stroke="#b81d08" stroke-width="0.35" rx="0" />
<line x1="239.36" y1="156.90" x2="239.36" y2="163.10" stroke="#333" stroke-width="0.75" />
<rect x="238.16" y="161.00" width="2.40" height="1.50" fill="#10a040" stroke="#0b7a30" stroke-width="0.35" rx="0" />
<line x1="242.99" y1="152.90" x2="242.99" y2="160.25" stroke="#333" stroke-width="0.75" />
<rect x="241.79" y="152.90" width="2.40" height="7.35" fill="#10a040" stroke="#0b7a30" stroke-width="0.35" rx="0" />
<line x1="246.62" y1="145.40" x2="246.62" y2="152.75" stroke="#333" stroke-width="0.75" />
<rect x="245.42" y="145.40" width="2.40" height="4.60" fill="#f22a0c" stroke="#b81d08" stroke-width="0.35" rx="0" />
<line x1="250.25" y1="152.25" x2="250.25" y2="153.75" stroke="#333" stroke-width="0.75" />
<rect x="249.05" y="152.25" width="2.40" height="1.50" fill="#f22a0c" stroke="#b81d08" stroke-width="0.35" rx="0" />
<line x1="253.88" y1="153.10" x2="253.88" y2="161.50" stroke="#333" stroke-width="0.75" />
<rect x="252.68" y="154.00" width="2.40" height="3.75" fill="#f22a0c" stroke="#b81d08" stroke-width="0.35" rx="0" />
<line x1="257.51" y1="149.10" x2="257.51" y2="160.60" stroke="#333" stroke-width="0.75" />
<rect x="256.31" y="149.10" width="2.40" height="9.65" fill="#10a040" stroke="#0b7a30" stroke-width="0.35" rx="0" />
<line x1="261.14" y1="148.75" x2="261.14" y2="156.90" stroke="#333" stroke-width="0.75" />
<rect x="259.94" y="148.75" width="2.40" height="8.15" fill="#f22a0c" stroke="#b81d08" stroke-width="0.35" rx="0" />
<line x1="264.77" y1="161.90" x2="264.77" y2="173.75" stroke="#333" stroke-width="0.75" />
<rect x="263.57" y="162.75" width="2.40" height="2.85" fill="#f22a0c" stroke="#b81d08" stroke-width="0.35" rx="0" />
<line x1="268.40" y1="161.00" x2="268.40" y2="167.50" stroke="#333" stroke-width="0.75" />
<rect x="267.20" y="165.25" width="2.40" height="1.25" fill="#10a040" stroke="#0b7a30" stroke-width="0.35" rx="0" />
<line x1="272.03" y1="166.25" x2="272.03" y2="176.90" stroke="#333" stroke-width="0.75" />
<rect x="270.83" y="169.50" width="2.40" height="5.60" fill="#f22a0c" stroke="#b81d08" stroke-width="0.35" rx="0" />
<line x1="275.66" y1="182.50" x2="275.66" y2="202.50" stroke="#222" stroke-width="0.75" />
<line x1="274.36" y1="186.30" x2="276.96" y2="186.30" stroke="#222" stroke-width="0.8" />
<line x1="279.29" y1="181.25" x2="279.29" y2="188.50" stroke="#333" stroke-width="0.75" />
<rect x="278.09" y="184.75" width="2.40" height="3.75" fill="#f22a0c" stroke="#b81d08" stroke-width="0.35" rx="0" />
<line x1="282.92" y1="180.00" x2="282.92" y2="187.50" stroke="#222" stroke-width="0.75" />
<line x1="281.62" y1="186.60" x2="284.22" y2="186.60" stroke="#222" stroke-width="0.8" />
<line x1="286.55" y1="190.40" x2="286.55" y2="202.90" stroke="#333" stroke-width="0.75" />
<rect x="285.35" y="190.40" width="2.40" height="12.50" fill="#f22a0c" stroke="#b81d08" stroke-width="0.35" rx="0" />
<line x1="290.18" y1="189.40" x2="290.18" y2="200.60" stroke="#333" stroke-width="0.75" />
<rect x="288.98" y="194.00" width="2.40" height="6.60" fill="#10a040" stroke="#0b7a30" stroke-width="0.35" rx="0" />
<line x1="293.81" y1="181.90" x2="293.81" y2="195.60" stroke="#333" stroke-width="0.75" />
<rect x="292.61" y="184.00" width="2.40" height="10.40" fill="#10a040" stroke="#0b7a30" stroke-width="0.35" rx="0" />
<line x1="297.44" y1="177.50" x2="297.44" y2="185.60" stroke="#333" stroke-width="0.75" />
<rect x="296.24" y="179.75" width="2.40" height="5.00" fill="#f22a0c" stroke="#b81d08" stroke-width="0.35" rx="0" />
<line x1="301.07" y1="185.60" x2="301.07" y2="197.50" stroke="#333" stroke-width="0.75" />
<rect x="299.87" y="185.60" width="2.40" height="8.80" fill="#f22a0c" stroke="#b81d08" stroke-width="0.35" rx="0" />
<line x1="304.70" y1="194.75" x2="304.70" y2="204.75" stroke="#222" stroke-width="0.75" />
<line x1="303.40" y1="201.30" x2="306.00" y2="201.30" stroke="#222" stroke-width="0.8" />
<line x1="308.33" y1="197.25" x2="308.33" y2="202.50" stroke="#222" stroke-width="0.75" />
<line x1="307.03" y1="201.10" x2="309.63" y2="201.10" stroke="#222" stroke-width="0.8" />
<line x1="311.96" y1="193.50" x2="311.96" y2="206.50" stroke="#333" stroke-width="0.75" />
<rect x="310.76" y="193.50" width="2.40" height="10.00" fill="#10a040" stroke="#0b7a30" stroke-width="0.35" rx="0" />
<line x1="315.59" y1="188.00" x2="315.59" y2="194.75" stroke="#333" stroke-width="0.75" />
<rect x="314.39" y="189.00" width="2.40" height="1.25" fill="#10a040" stroke="#0b7a30" stroke-width="0.35" rx="0" />
<line x1="319.22" y1="179.75" x2="319.22" y2="189.00" stroke="#333" stroke-width="0.75" />
<rect x="318.02" y="183.10" width="2.40" height="5.90" fill="#10a040" stroke="#0b7a30" stroke-width="0.35" rx="0" />
<line x1="322.85" y1="182.25" x2="322.85" y2="194.00" stroke="#333" stroke-width="0.75" />
<rect x="321.65" y="182.25" width="2.40" height="10.85" fill="#f22a0c" stroke="#b81d08" stroke-width="0.35" rx="0" />
<line x1="326.48" y1="190.00" x2="326.48" y2="198.75" stroke="#333" stroke-width="0.75" />
<rect x="325.28" y="194.40" width="2.40" height="3.70" fill="#f22a0c" stroke="#b81d08" stroke-width="0.35" rx="0" />
<line x1="330.11" y1="188.50" x2="330.11" y2="197.25" stroke="#333" stroke-width="0.75" />
<rect x="328.91" y="188.50" width="2.40" height="7.75" fill="#10a040" stroke="#0b7a30" stroke-width="0.35" rx="0" />
<line x1="333.74" y1="186.90" x2="333.74" y2="195.60" stroke="#333" stroke-width="0.75" />
<rect x="332.54" y="188.75" width="2.40" height="6.25" fill="#f22a0c" stroke="#b81d08" stroke-width="0.35" rx="0" />
<line x1="337.37" y1="195.40" x2="337.37" y2="203.50" stroke="#333" stroke-width="0.75" />
<rect x="336.17" y="195.40" width="2.40" height="8.10" fill="#f22a0c" stroke="#b81d08" stroke-width="0.35" rx="0" />
<line x1="341.00" y1="203.30" x2="341.00" y2="212.50" stroke="#333" stroke-width="0.75" />
<rect x="339.80" y="203.30" width="2.40" height="9.20" fill="#f22a0c" stroke="#b81d08" stroke-width="0.35" rx="0" />
<line x1="344.63" y1="201.90" x2="344.63" y2="213.60" stroke="#333" stroke-width="0.75" />
<rect x="343.43" y="204.00" width="2.40" height="9.60" fill="#10a040" stroke="#0b7a30" stroke-width="0.35" rx="0" />
<line x1="348.26" y1="207.00" x2="348.26" y2="218.10" stroke="#333" stroke-width="0.75" />
<rect x="347.06" y="207.00" width="2.40" height="8.60" fill="#f22a0c" stroke="#b81d08" stroke-width="0.35" rx="0" />
<line x1="351.89" y1="214.00" x2="351.89" y2="221.50" stroke="#333" stroke-width="0.75" />
<rect x="350.69" y="214.00" width="2.40" height="5.75" fill="#10a040" stroke="#0b7a30" stroke-width="0.35" rx="0" />
<line x1="355.52" y1="211.90" x2="355.52" y2="220.60" stroke="#333" stroke-width="0.75" />
<rect x="354.32" y="214.00" width="2.40" height="1.00" fill="#10a040" stroke="#0b7a30" stroke-width="0.35" rx="0" />
<line x1="359.15" y1="214.40" x2="359.15" y2="221.25" stroke="#333" stroke-width="0.75" />
<rect x="357.95" y="214.40" width="2.40" height="1.60" fill="#f22a0c" stroke="#b81d08" stroke-width="0.35" rx="0" />
<line x1="362.78" y1="205.60" x2="362.78" y2="216.90" stroke="#333" stroke-width="0.75" />
<rect x="361.58" y="211.25" width="2.40" height="3.75" fill="#10a040" stroke="#0b7a30" stroke-width="0.35" rx="0" />
<line x1="366.41" y1="203.50" x2="366.41" y2="214.40" stroke="#333" stroke-width="0.75" />
<rect x="365.21" y="211.50" width="2.40" height="2.90" fill="#10a040" stroke="#0b7a30" stroke-width="0.35" rx="0" />
<line x1="370.04" y1="214.40" x2="370.04" y2="226.25" stroke="#333" stroke-width="0.75" />
<rect x="368.84" y="214.40" width="2.40" height="8.70" fill="#f22a0c" stroke="#b81d08" stroke-width="0.35" rx="0" />
<line x1="373.67" y1="211.90" x2="373.67" y2="220.00" stroke="#333" stroke-width="0.75" />
<rect x="372.47" y="215.00" width="2.40" height="5.00" fill="#10a040" stroke="#0b7a30" stroke-width="0.35" rx="0" />
<line x1="377.30" y1="208.00" x2="377.30" y2="217.50" stroke="#222" stroke-width="0.75" />
<line x1="376.00" y1="215.70" x2="378.60" y2="215.70" stroke="#222" stroke-width="0.8" />
<line x1="380.93" y1="211.25" x2="380.93" y2="217.50" stroke="#333" stroke-width="0.75" />
<rect x="379.73" y="216.25" width="2.40" height="1.25" fill="#f22a0c" stroke="#b81d08" stroke-width="0.35" rx="0" />
<line x1="384.56" y1="222.25" x2="384.56" y2="232.75" stroke="#333" stroke-width="0.75" />
<rect x="383.36" y="222.25" width="2.40" height="2.15" fill="#f22a0c" stroke="#b81d08" stroke-width="0.35" rx="0" />
<line x1="388.19" y1="225.00" x2="388.19" y2="237.00" stroke="#333" stroke-width="0.75" />
<rect x="386.99" y="228.10" width="2.40" height="8.90" fill="#f22a0c" stroke="#b81d08" stroke-width="0.35" rx="0" />
<line x1="391.82" y1="241.00" x2="391.82" y2="257.75" stroke="#333" stroke-width="0.75" />
<rect x="390.62" y="241.00" width="2.40" height="16.75" fill="#f22a0c" stroke="#b81d08" stroke-width="0.35" rx="0" />
<line x1="395.45" y1="236.00" x2="395.45" y2="274.90" stroke="#333" stroke-width="0.75" />
<rect x="394.25" y="238.60" width="2.40" height="25.65" fill="#10a040" stroke="#0b7a30" stroke-width="0.35" rx="0" />
<line x1="399.08" y1="236.00" x2="399.08" y2="247.40" stroke="#222" stroke-width="0.75" />
<line x1="397.78" y1="244.30" x2="400.38" y2="244.30" stroke="#222" stroke-width="0.8" />
<line x1="402.71" y1="236.25" x2="402.71" y2="245.50" stroke="#333" stroke-width="0.75" />
<rect x="401.51" y="239.50" width="2.40" height="4.10" fill="#10a040" stroke="#0b7a30" stroke-width="0.35" rx="0" />
<line x1="406.34" y1="233.50" x2="406.34" y2="244.25" stroke="#333" stroke-width="0.75" />
<rect x="405.14" y="235.25" width="2.40" height="9.00" fill="#f22a0c" stroke="#b81d08" stroke-width="0.35" rx="0" />
<line x1="409.97" y1="245.50" x2="409.97" y2="248.10" stroke="#222" stroke-width="0.75" />
<line x1="408.67" y1="247.50" x2="411.27" y2="247.50" stroke="#222" stroke-width="0.8" />
<line x1="413.60" y1="248.00" x2="413.60" y2="259.25" stroke="#333" stroke-width="0.75" />
<rect x="412.40" y="249.00" width="2.40" height="10.25" fill="#f22a0c" stroke="#b81d08" stroke-width="0.35" rx="0" />
<line x1="417.23" y1="249.25" x2="417.23" y2="264.25" stroke="#333" stroke-width="0.75" />
<rect x="416.03" y="253.00" width="2.40" height="11.25" fill="#10a040" stroke="#0b7a30" stroke-width="0.35" rx="0" />
<line x1="420.86" y1="249.25" x2="420.86" y2="262.40" stroke="#333" stroke-width="0.75" />
<rect x="419.66" y="254.00" width="2.40" height="8.40" fill="#f22a0c" stroke="#b81d08" stroke-width="0.35" rx="0" />
<line x1="424.49" y1="259.90" x2="424.49" y2="268.60" stroke="#333" stroke-width="0.75" />
<rect x="423.29" y="259.90" width="2.40" height="5.60" fill="#10a040" stroke="#0b7a30" stroke-width="0.35" rx="0" />
<line x1="428.12" y1="253.00" x2="428.12" y2="260.50" stroke="#333" stroke-width="0.75" />
<rect x="426.92" y="254.90" width="2.40" height="5.60" fill="#10a040" stroke="#0b7a30" stroke-width="0.35" rx="0" />
<line x1="431.75" y1="254.00" x2="431.75" y2="262.00" stroke="#333" stroke-width="0.75" />
<rect x="430.55" y="254.00" width="2.40" height="1.25" fill="#10a040" stroke="#0b7a30" stroke-width="0.35" rx="0" />
<line x1="435.38" y1="246.50" x2="435.38" y2="251.00" stroke="#333" stroke-width="0.75" />
<rect x="434.18" y="246.50" width="2.40" height="2.10" fill="#f22a0c" stroke="#b81d08" stroke-width="0.35" rx="0" />
<line x1="439.01" y1="234.90" x2="439.01" y2="243.60" stroke="#222" stroke-width="0.75" />
<line x1="437.71" y1="243.30" x2="440.31" y2="243.30" stroke="#222" stroke-width="0.8" />
<line x1="442.64" y1="241.50" x2="442.64" y2="251.75" stroke="#333" stroke-width="0.75" />
<rect x="441.44" y="245.90" width="2.40" height="1.85" fill="#10a040" stroke="#0b7a30" stroke-width="0.35" rx="0" />
<line x1="446.27" y1="236.10" x2="446.27" y2="244.25" stroke="#333" stroke-width="0.75" />
<rect x="445.07" y="236.10" width="2.40" height="5.90" fill="#10a040" stroke="#0b7a30" stroke-width="0.35" rx="0" />
<line x1="449.90" y1="234.00" x2="449.90" y2="239.00" stroke="#333" stroke-width="0.75" />
<rect x="448.70" y="234.00" width="2.40" height="1.75" fill="#f22a0c" stroke="#b81d08" stroke-width="0.35" rx="0" />
<line x1="453.53" y1="235.50" x2="453.53" y2="241.10" stroke="#333" stroke-width="0.75" />
<rect x="452.33" y="236.75" width="2.40" height="3.15" fill="#10a040" stroke="#0b7a30" stroke-width="0.35" rx="0" />
<line x1="457.16" y1="242.75" x2="457.16" y2="253.00" stroke="#333" stroke-width="0.75" />
<rect x="455.96" y="242.75" width="2.40" height="7.75" fill="#f22a0c" stroke="#b81d08" stroke-width="0.35" rx="0" />
<line x1="460.79" y1="245.50" x2="460.79" y2="249.90" stroke="#333" stroke-width="0.75" />
<rect x="459.59" y="246.75" width="2.40" height="3.15" fill="#f22a0c" stroke="#b81d08" stroke-width="0.35" rx="0" />
<line x1="464.42" y1="247.40" x2="464.42" y2="256.50" stroke="#333" stroke-width="0.75" />
<rect x="463.22" y="249.90" width="2.40" height="5.60" fill="#f22a0c" stroke="#b81d08" stroke-width="0.35" rx="0" />
<line x1="468.05" y1="254.25" x2="468.05" y2="259.90" stroke="#333" stroke-width="0.75" />
<rect x="466.85" y="256.10" width="2.40" height="1.30" fill="#10a040" stroke="#0b7a30" stroke-width="0.35" rx="0" />
<line x1="471.68" y1="252.40" x2="471.68" y2="259.90" stroke="#333" stroke-width="0.75" />
<rect x="470.48" y="254.25" width="2.40" height="1.25" fill="#10a040" stroke="#0b7a30" stroke-width="0.35" rx="0" />
<line x1="475.31" y1="256.10" x2="475.31" y2="259.25" stroke="#333" stroke-width="0.75" />
<rect x="474.11" y="256.10" width="2.40" height="3.15" fill="#f22a0c" stroke="#b81d08" stroke-width="0.35" rx="0" />
<line x1="478.94" y1="248.30" x2="478.94" y2="261.75" stroke="#333" stroke-width="0.75" />
<rect x="477.74" y="253.40" width="2.40" height="5.85" fill="#10a040" stroke="#0b7a30" stroke-width="0.35" rx="0" />
<line x1="482.57" y1="251.75" x2="482.57" y2="259.50" stroke="#333" stroke-width="0.75" />
<rect x="481.37" y="254.00" width="2.40" height="5.50" fill="#f22a0c" stroke="#b81d08" stroke-width="0.35" rx="0" />
<line x1="486.20" y1="258.50" x2="486.20" y2="262.50" stroke="#333" stroke-width="0.75" />
<rect x="485.00" y="260.00" width="2.40" height="1.00" fill="#10a040" stroke="#0b7a30" stroke-width="0.35" rx="0" />
<line x1="489.83" y1="257.40" x2="489.83" y2="266.50" stroke="#333" stroke-width="0.75" />
<rect x="488.63" y="259.25" width="2.40" height="7.25" fill="#f22a0c" stroke="#b81d08" stroke-width="0.35" rx="0" />
<line x1="493.46" y1="266.00" x2="493.46" y2="274.70" stroke="#333" stroke-width="0.75" />
<rect x="492.26" y="267.80" width="2.40" height="6.90" fill="#f22a0c" stroke="#b81d08" stroke-width="0.35" rx="0" />
<line x1="497.09" y1="273.50" x2="497.09" y2="278.25" stroke="#333" stroke-width="0.75" />
<rect x="495.89" y="273.50" width="2.40" height="4.75" fill="#f22a0c" stroke="#b81d08" stroke-width="0.35" rx="0" />
<line x1="500.72" y1="270.50" x2="500.72" y2="278.25" stroke="#333" stroke-width="0.75" />
<rect x="499.52" y="276.75" width="2.40" height="1.25" fill="#10a040" stroke="#0b7a30" stroke-width="0.35" rx="0" />
<line x1="504.35" y1="279.50" x2="504.35" y2="288.25" stroke="#333" stroke-width="0.75" />
<rect x="503.15" y="279.50" width="2.40" height="6.90" fill="#f22a0c" stroke="#b81d08" stroke-width="0.35" rx="0" />
<line x1="507.98" y1="281.40" x2="507.98" y2="288.90" stroke="#333" stroke-width="0.75" />
<rect x="506.78" y="283.90" width="2.40" height="2.60" fill="#f22a0c" stroke="#b81d08" stroke-width="0.35" rx="0" />
<line x1="511.61" y1="291.00" x2="511.61" y2="302.00" stroke="#333" stroke-width="0.75" />
<rect x="510.41" y="297.25" width="2.40" height="1.25" fill="#f22a0c" stroke="#b81d08" stroke-width="0.35" rx="0" />
<line x1="515.24" y1="284.50" x2="515.24" y2="300.10" stroke="#333" stroke-width="0.75" />
<rect x="514.04" y="284.50" width="2.40" height="15.60" fill="#10a040" stroke="#0b7a30" stroke-width="0.35" rx="0" />
<line x1="518.87" y1="277.25" x2="518.87" y2="288.90" stroke="#333" stroke-width="0.75" />
<rect x="517.67" y="277.25" width="2.40" height="5.35" fill="#10a040" stroke="#0b7a30" stroke-width="0.35" rx="0" />
<line x1="522.50" y1="273.50" x2="522.50" y2="275.50" stroke="#333" stroke-width="0.75" />
<rect x="521.30" y="274.00" width="2.40" height="0.90" fill="#10a040" stroke="#0b7a30" stroke-width="0.35" rx="0" />
<line x1="526.13" y1="275.10" x2="526.13" y2="278.00" stroke="#333" stroke-width="0.75" />
<rect x="524.93" y="275.10" width="2.40" height="2.90" fill="#f22a0c" stroke="#b81d08" stroke-width="0.35" rx="0" />
<line x1="529.76" y1="270.75" x2="529.76" y2="278.25" stroke="#333" stroke-width="0.75" />
<rect x="528.56" y="270.75" width="2.40" height="7.50" fill="#10a040" stroke="#0b7a30" stroke-width="0.35" rx="0" />
</g>
<path d="M190.3,101.2 Q191.9,99.6 193.5,101.2" fill="none" stroke="#f22a0c" stroke-width="0.5"/>
<path d="M510.2,304.2 Q511.6,305.6 513,304.2" fill="none" stroke="#f22a0c" stroke-width="0.5"/>
<line x1="227.50" y1="132.75" x2="550.60" y2="279.00" stroke="#000" stroke-width="2" stroke-linecap="butt"/>
<rect x="521.50" y="249.50" width="79.10" height="32.50" fill="none" stroke="#000" stroke-width="1.3" rx="0" />
<circle cx="539" cy="264.4" r="9.7" fill="#4472c4" stroke="#3a63ad" stroke-width="0.5"/>
<text x="38.10" y="79.70" font-size="6.7" fill="#777" font-weight="normal" text-anchor="start" textLength="30.60" lengthAdjust="spacingAndGlyphs" >05/18/2020</text>
<text x="71.60" y="79.70" font-size="6.7" fill="#000" font-weight="bold" text-anchor="start" textLength="15.30" lengthAdjust="spacingAndGlyphs" >MCHI</text>
<text x="89.40" y="79.70" font-size="6.7" fill="#888" font-weight="normal" text-anchor="start" textLength="3.70" lengthAdjust="spacingAndGlyphs" >O</text>
<text x="93.75" y="79.70" font-size="6.7" fill="#f22a0c" font-weight="bold" text-anchor="start" textLength="15.00" lengthAdjust="spacingAndGlyphs" >61.88</text>
<text x="110.60" y="79.70" font-size="6.7" fill="#888" font-weight="normal" text-anchor="start" textLength="3.40" lengthAdjust="spacingAndGlyphs" >H</text>
<text x="115.00" y="79.70" font-size="6.7" fill="#f22a0c" font-weight="bold" text-anchor="start" textLength="15.20" lengthAdjust="spacingAndGlyphs" >63.59</text>
<text x="131.90" y="79.70" font-size="6.7" fill="#888" font-weight="normal" text-anchor="start" textLength="2.90" lengthAdjust="spacingAndGlyphs" >L</text>
<text x="135.20" y="79.70" font-size="6.7" fill="#f22a0c" font-weight="bold" text-anchor="start" textLength="15.40" lengthAdjust="spacingAndGlyphs" >59.01</text>
<text x="153.10" y="79.70" font-size="6.7" fill="#888" font-weight="normal" text-anchor="start" textLength="3.40" lengthAdjust="spacingAndGlyphs" >C</text>
<text x="157.20" y="79.70" font-size="6.7" fill="#f22a0c" font-weight="bold" text-anchor="start" textLength="15.50" lengthAdjust="spacingAndGlyphs" >59.08</text>
<text x="174.80" y="79.70" font-size="6.7" fill="#888" font-weight="normal" text-anchor="start" textLength="3.30" lengthAdjust="spacingAndGlyphs" >Δ</text>
<text x="178.40" y="79.70" font-size="6.7" fill="#f22a0c" font-weight="bold" text-anchor="start" textLength="14.00" lengthAdjust="spacingAndGlyphs" >-1.23</text>
<polyline points="561.3,76.7 563,78.4 564.7,76.7" fill="none" stroke="#333" stroke-width="0.8"/>
<polyline points="561.3,332.8 563,331.1 564.7,332.8" fill="none" stroke="#333" stroke-width="0.8"/>
<text x="580.00" y="97.40" font-size="6.7" fill="#666" font-weight="normal" text-anchor="start" textLength="18.50" lengthAdjust="spacingAndGlyphs" >100.00</text>
<text x="579.60" y="129.65" font-size="6.7" fill="#666" font-weight="normal" text-anchor="start" textLength="15.20" lengthAdjust="spacingAndGlyphs" >90.00</text>
<text x="579.60" y="161.40" font-size="6.7" fill="#666" font-weight="normal" text-anchor="start" textLength="15.20" lengthAdjust="spacingAndGlyphs" >80.00</text>
<text x="579.60" y="193.00" font-size="6.7" fill="#666" font-weight="normal" text-anchor="start" textLength="15.20" lengthAdjust="spacingAndGlyphs" >70.00</text>
<text x="579.60" y="224.65" font-size="6.7" fill="#666" font-weight="normal" text-anchor="start" textLength="15.20" lengthAdjust="spacingAndGlyphs" >60.00</text>
<text x="579.60" y="256.65" font-size="6.7" fill="#666" font-weight="normal" text-anchor="start" textLength="15.20" lengthAdjust="spacingAndGlyphs" >50.00</text>
<text x="579.60" y="288.15" font-size="6.7" fill="#666" font-weight="normal" text-anchor="start" textLength="15.20" lengthAdjust="spacingAndGlyphs" >40.00</text>
<text x="579.60" y="320.15" font-size="6.7" fill="#666" font-weight="normal" text-anchor="start" textLength="15.20" lengthAdjust="spacingAndGlyphs" >30.00</text>
<text x="580.00" y="349.90" font-size="6.7" fill="#666" font-weight="normal" text-anchor="start" textLength="20.00" lengthAdjust="spacingAndGlyphs" >10.00M</text>
<text x="580.00" y="386.15" font-size="6.7" fill="#666" font-weight="normal" text-anchor="start" textLength="16.80" lengthAdjust="spacingAndGlyphs" >0.00M</text>
<path d="M576.5,259.5 L596.5,259.5 L596.5,269.5 L576.5,269.5 L573.4,264.5 Z" fill="#8c8c8c"/>
<text x="579.00" y="267.20" font-size="6.5" fill="#fff" font-weight="bold" text-anchor="start" textLength="15.60" lengthAdjust="spacingAndGlyphs" >46.81</text>
<path d="M576.2,265.75 L596.5,265.75 L596.5,275.5 L576.2,275.5 L573,270.6 Z" fill="#10a545"/>
<text x="579.00" y="273.00" font-size="6.5" fill="#fff" font-weight="bold" text-anchor="start" textLength="15.60" lengthAdjust="spacingAndGlyphs" >44.92</text>
<path d="M576.2,356 L598.75,356 L598.75,366.5 L576.2,366.5 L573,361.25 Z" fill="#10a545"/>
<text x="578.60" y="363.60" font-size="6.5" fill="#fff" font-weight="bold" text-anchor="start" textLength="18.20" lengthAdjust="spacingAndGlyphs" >6.20M</text>
<path d="M576.2,370.6 L598.6,370.6 Q599.4,370.6 599.4,371.4 L599.4,380.4 Q599.4,381.25 598.6,381.25 L576.2,381.25 L573,375.9 Z" fill="#fff" stroke="#aaa" stroke-width="0.6"/>
<text x="578.60" y="378.30" font-size="6.5" fill="#222" font-weight="bold" text-anchor="start" textLength="18.20" lengthAdjust="spacingAndGlyphs" >2.02M</text>
<g stroke="#668" stroke-width="0.5"><line x1="39.4" y1="329.7" x2="42.6" y2="332.9"/><line x1="42.6" y1="329.7" x2="39.4" y2="332.9"/></g>
<text x="48.00" y="333.60" font-size="6.7" fill="#111" font-weight="bold" text-anchor="start" textLength="44.40" lengthAdjust="spacingAndGlyphs" >VOL (LikeMain)</text>
<text x="94.25" y="333.60" font-size="6.7" fill="#f22a0c" font-weight="bold" text-anchor="start" textLength="26.80" lengthAdjust="spacingAndGlyphs" >4,414,400</text>
<text x="79.90" y="395.80" font-size="6.9" fill="#666" font-weight="normal" text-anchor="start" textLength="21.00" lengthAdjust="spacingAndGlyphs" >Aug '20</text>
<text x="126.90" y="395.80" font-size="6.9" fill="#666" font-weight="normal" text-anchor="start" textLength="21.00" lengthAdjust="spacingAndGlyphs" >Nov '20</text>
<text x="174.00" y="395.80" font-size="6.9" fill="#666" font-weight="normal" text-anchor="start" textLength="21.00" lengthAdjust="spacingAndGlyphs" >Feb '21</text>
<text x="221.00" y="395.80" font-size="6.9" fill="#666" font-weight="normal" text-anchor="start" textLength="21.00" lengthAdjust="spacingAndGlyphs" >May '21</text>
<text x="268.50" y="395.80" font-size="6.9" fill="#666" font-weight="normal" text-anchor="start" textLength="21.00" lengthAdjust="spacingAndGlyphs" >Aug '21</text>
<text x="315.75" y="395.80" font-size="6.9" fill="#666" font-weight="normal" text-anchor="start" textLength="21.00" lengthAdjust="spacingAndGlyphs" >Nov '21</text>
<text x="366.90" y="395.80" font-size="6.9" fill="#666" font-weight="normal" text-anchor="start" textLength="21.00" lengthAdjust="spacingAndGlyphs" >Feb '22</text>
<text x="410.00" y="395.80" font-size="6.9" fill="#666" font-weight="normal" text-anchor="start" textLength="21.00" lengthAdjust="spacingAndGlyphs" >May '22</text>
<text x="457.10" y="395.80" font-size="6.9" fill="#666" font-weight="normal" text-anchor="start" textLength="21.00" lengthAdjust="spacingAndGlyphs" >Aug '22</text>
<text x="508.25" y="395.80" font-size="6.9" fill="#666" font-weight="normal" text-anchor="start" textLength="21.00" lengthAdjust="spacingAndGlyphs" >Nov '22</text>
<text x="555.50" y="395.80" font-size="6.9" fill="#666" font-weight="normal" text-anchor="start" textLength="21.00" lengthAdjust="spacingAndGlyphs" >Feb '23</text>
<path d="M33,388.4 L48.3,388.4 L50.45,386.3 L52.6,388.4 L73,388.4 L73,398.4 L33,398.4 Z" fill="#fff" stroke="#999" stroke-width="0.6"/>
<text x="36.60" y="396.00" font-size="7" fill="#222" font-weight="normal" text-anchor="start" textLength="32.80" lengthAdjust="spacingAndGlyphs" >05/18/2020</text>
<text x="663.75" y="93.00" font-size="14" fill="#000" font-weight="normal" text-anchor="start" textLength="16.30" lengthAdjust="spacingAndGlyphs" >KR</text>
<g filter="url(#sh)"><rect x="624.25" y="100" width="149.5" height="245.5" fill="#fff"/></g>
<g clip-path="url(#kc)">
<line x1="624.25" y1="104.50" x2="736.25" y2="104.50" stroke="#e2e2e2" stroke-width="0.7" />
<line x1="624.25" y1="118.59" x2="736.25" y2="118.59" stroke="#e2e2e2" stroke-width="0.7" />
<line x1="624.25" y1="132.68" x2="736.25" y2="132.68" stroke="#e2e2e2" stroke-width="0.7" />
<line x1="624.25" y1="146.77" x2="736.25" y2="146.77" stroke="#e2e2e2" stroke-width="0.7" />
<line x1="624.25" y1="160.86" x2="736.25" y2="160.86" stroke="#e2e2e2" stroke-width="0.7" />
<line x1="624.25" y1="174.95" x2="736.25" y2="174.95" stroke="#e2e2e2" stroke-width="0.7" />
<line x1="624.25" y1="189.04" x2="736.25" y2="189.04" stroke="#e2e2e2" stroke-width="0.7" />
<line x1="624.25" y1="203.13" x2="736.25" y2="203.13" stroke="#e2e2e2" stroke-width="0.7" />
<line x1="624.25" y1="217.22" x2="736.25" y2="217.22" stroke="#e2e2e2" stroke-width="0.7" />
<line x1="624.25" y1="231.31" x2="736.25" y2="231.31" stroke="#e2e2e2" stroke-width="0.7" />
<line x1="624.25" y1="245.40" x2="736.25" y2="245.40" stroke="#e2e2e2" stroke-width="0.7" />
<line x1="624.25" y1="259.49" x2="736.25" y2="259.49" stroke="#e2e2e2" stroke-width="0.7" />
<line x1="624.25" y1="273.58" x2="736.25" y2="273.58" stroke="#e2e2e2" stroke-width="0.7" />
<line x1="624.25" y1="287.67" x2="736.25" y2="287.67" stroke="#e2e2e2" stroke-width="0.7" />
<line x1="624.25" y1="301.76" x2="736.25" y2="301.76" stroke="#e2e2e2" stroke-width="0.7" />
<line x1="624.25" y1="315.85" x2="736.25" y2="315.85" stroke="#e2e2e2" stroke-width="0.7" />
<line x1="624.25" y1="329.94" x2="736.25" y2="329.94" stroke="#e2e2e2" stroke-width="0.7" />
<line x1="625.00" y1="100.00" x2="625.00" y2="329.70" stroke="#444" stroke-width="0.9" stroke-dasharray="1 4.6"/>
<line x1="648.00" y1="100.00" x2="648.00" y2="329.70" stroke="#444" stroke-width="0.9" stroke-dasharray="1 4.6"/>
<line x1="653.00" y1="100.00" x2="653.00" y2="329.70" stroke="#444" stroke-width="0.9" stroke-dasharray="1 4.6"/>
<line x1="671.75" y1="100.00" x2="671.75" y2="329.70" stroke="#444" stroke-width="0.9" stroke-dasharray="1 4.6"/>
<line x1="695.00" y1="100.00" x2="695.00" y2="329.70" stroke="#444" stroke-width="0.9" stroke-dasharray="1 4.6"/>
<line x1="718.25" y1="100.00" x2="718.25" y2="329.70" stroke="#444" stroke-width="0.9" stroke-dasharray="1 4.6"/>
<line x1="624.00" y1="205.50" x2="736.25" y2="205.50" stroke="#ff9a1a" stroke-width="1" />
<rect x="624.00" y="210.00" width="112.25" height="6.00" fill="#c9f4c9" stroke="none" stroke-width="1" rx="0" />
<line x1="624.00" y1="210.20" x2="736.25" y2="210.20" stroke="#7ddc7d" stroke-width="0.6" />
<line x1="624.00" y1="215.70" x2="736.25" y2="215.70" stroke="#2fc22f" stroke-width="1.1" />
<line x1="624.00" y1="217.40" x2="736.25" y2="217.40" stroke="#a9a9b4" stroke-width="0.9" />
<rect x="624.00" y="219.75" width="112.25" height="3.50" fill="#ff9a0a" stroke="none" stroke-width="1" rx="0" />
<rect x="624.00" y="224.30" width="112.25" height="1.40" fill="#ffe2e2" stroke="none" stroke-width="1" rx="0" />
<line x1="624.00" y1="225.00" x2="736.25" y2="225.00" stroke="#e02020" stroke-width="0.8" />
<line x1="624.00" y1="235.20" x2="736.25" y2="235.20" stroke="#ff9a1a" stroke-width="0.9" />
<line x1="624.00" y1="238.80" x2="736.25" y2="238.80" stroke="#ff9a1a" stroke-width="1.3" />
<line x1="736.25" y1="100.00" x2="736.25" y2="329.70" stroke="#8a8a8a" stroke-width="1" />
<line x1="624.00" y1="329.70" x2="736.25" y2="329.70" stroke="#444" stroke-width="1" />
<line x1="625.25" y1="252.00" x2="625.25" y2="262.00" stroke="#555" stroke-width="0.7" />
<rect x="623.85" y="252.00" width="2.80" height="2.70" fill="#22ea22" stroke="#0a6a0a" stroke-width="0.4" rx="0.6" />
<line x1="629.75" y1="246.00" x2="629.75" y2="253.50" stroke="#555" stroke-width="0.7" />
<rect x="628.35" y="246.00" width="2.80" height="7.50" fill="#22ea22" stroke="#0a6a0a" stroke-width="0.4" rx="0.6" />
<line x1="634.50" y1="236.25" x2="634.50" y2="244.20" stroke="#555" stroke-width="0.7" />
<rect x="633.10" y="240.75" width="2.80" height="3.45" fill="#22ea22" stroke="#0a6a0a" stroke-width="0.4" rx="0.6" />
<line x1="639.20" y1="235.50" x2="639.20" y2="239.30" stroke="#222" stroke-width="0.7" />
<line x1="637.70" y1="238.55" x2="640.70" y2="238.55" stroke="#111" stroke-width="0.9" />
<line x1="643.70" y1="224.30" x2="643.70" y2="235.80" stroke="#555" stroke-width="0.7" />
<rect x="642.30" y="229.20" width="2.80" height="6.60" fill="#22ea22" stroke="#0a6a0a" stroke-width="0.4" rx="0.6" />
<line x1="648.50" y1="223.50" x2="648.50" y2="229.50" stroke="#555" stroke-width="0.7" />
<rect x="647.10" y="225.00" width="2.80" height="4.50" fill="#22ea22" stroke="#0a6a0a" stroke-width="0.4" rx="0.6" />
<line x1="653.30" y1="220.50" x2="653.30" y2="230.25" stroke="#555" stroke-width="0.7" />
<rect x="651.90" y="222.00" width="2.80" height="3.50" fill="#e61414" stroke="#6a0a0a" stroke-width="0.4" rx="0.6" />
<line x1="657.80" y1="222.00" x2="657.80" y2="230.70" stroke="#555" stroke-width="0.7" />
<rect x="656.40" y="226.80" width="2.80" height="3.90" fill="#e61414" stroke="#6a0a0a" stroke-width="0.4" rx="0.6" />
<line x1="662.60" y1="225.30" x2="662.60" y2="235.50" stroke="#555" stroke-width="0.7" />
<rect x="661.20" y="225.30" width="2.80" height="7.95" fill="#22ea22" stroke="#0a6a0a" stroke-width="0.4" rx="0.6" />
<line x1="667.40" y1="222.00" x2="667.40" y2="236.25" stroke="#555" stroke-width="0.7" />
<rect x="666.00" y="223.00" width="2.80" height="9.50" fill="#e61414" stroke="#6a0a0a" stroke-width="0.4" rx="0.6" />
<line x1="672.00" y1="227.50" x2="672.00" y2="232.50" stroke="#555" stroke-width="0.7" />
<rect x="670.60" y="228.30" width="2.80" height="2.10" fill="#22ea22" stroke="#0a6a0a" stroke-width="0.4" rx="0.6" />
<line x1="676.70" y1="224.70" x2="676.70" y2="229.20" stroke="#555" stroke-width="0.7" />
<rect x="675.30" y="225.75" width="2.80" height="3.45" fill="#22ea22" stroke="#0a6a0a" stroke-width="0.4" rx="0.6" />
<line x1="681.50" y1="205.50" x2="681.50" y2="218.25" stroke="#555" stroke-width="0.7" />
<rect x="680.10" y="216.50" width="2.80" height="1.75" fill="#e61414" stroke="#6a0a0a" stroke-width="0.4" rx="0.6" />
<line x1="686.00" y1="213.00" x2="686.00" y2="227.25" stroke="#555" stroke-width="0.7" />
<rect x="684.60" y="213.75" width="2.80" height="3.75" fill="#e61414" stroke="#6a0a0a" stroke-width="0.4" rx="0.6" />
<line x1="690.50" y1="218.00" x2="690.50" y2="235.50" stroke="#555" stroke-width="0.7" />
<rect x="689.10" y="218.00" width="2.80" height="7.75" fill="#e61414" stroke="#6a0a0a" stroke-width="0.4" rx="0.6" />
<line x1="695.50" y1="222.75" x2="695.50" y2="235.50" stroke="#555" stroke-width="0.7" />
<rect x="694.10" y="225.00" width="2.80" height="5.70" fill="#e61414" stroke="#6a0a0a" stroke-width="0.4" rx="0.6" />
<line x1="700.25" y1="226.80" x2="700.25" y2="231.00" stroke="#555" stroke-width="0.7" />
<rect x="698.85" y="226.80" width="2.80" height="1.50" fill="#e61414" stroke="#6a0a0a" stroke-width="0.4" rx="0.6" />
<line x1="704.75" y1="220.20" x2="704.75" y2="227.25" stroke="#555" stroke-width="0.7" />
<rect x="703.35" y="220.20" width="2.80" height="7.05" fill="#22ea22" stroke="#0a6a0a" stroke-width="0.4" rx="0.6" />
<line x1="709.50" y1="216.00" x2="709.50" y2="222.75" stroke="#555" stroke-width="0.7" />
<rect x="708.10" y="217.20" width="2.80" height="5.55" fill="#22ea22" stroke="#0a6a0a" stroke-width="0.4" rx="0.6" />
<line x1="714.20" y1="211.80" x2="714.20" y2="219.75" stroke="#555" stroke-width="0.7" />
<rect x="712.80" y="213.75" width="2.80" height="3.00" fill="#e61414" stroke="#6a0a0a" stroke-width="0.4" rx="0.6" />
<line x1="718.70" y1="216.00" x2="718.70" y2="221.25" stroke="#222" stroke-width="0.7" />
<line x1="717.20" y1="217.10" x2="720.20" y2="217.10" stroke="#111" stroke-width="0.9" />
<line x1="723.50" y1="213.30" x2="723.50" y2="218.70" stroke="#555" stroke-width="0.7" />
<rect x="722.10" y="214.50" width="2.80" height="3.50" fill="#e61414" stroke="#6a0a0a" stroke-width="0.4" rx="0.6" />
<line x1="728.30" y1="217.50" x2="728.30" y2="221.25" stroke="#555" stroke-width="0.7" />
<rect x="726.90" y="217.50" width="2.80" height="2.25" fill="#e61414" stroke="#6a0a0a" stroke-width="0.4" rx="0.6" />
<line x1="733.00" y1="209.50" x2="733.00" y2="219.30" stroke="#555" stroke-width="0.7" />
<rect x="731.60" y="210.50" width="2.80" height="8.80" fill="#22ea22" stroke="#0a6a0a" stroke-width="0.4" rx="0.6" />
<line x1="623.60" y1="184.90" x2="774.00" y2="184.90" stroke="#000" stroke-width="1.8" />
<line x1="630.40" y1="218.00" x2="774.00" y2="199.30" stroke="#000" stroke-width="1.5" />
<line x1="630.40" y1="242.00" x2="774.00" y2="223.60" stroke="#000" stroke-width="1.5" />
<text x="740.50" y="104.95" font-size="6.8" fill="#333" font-weight="normal" text-anchor="start" textLength="24.50" lengthAdjust="spacingAndGlyphs" >61.5837</text>
<text x="740.50" y="119.01" font-size="6.8" fill="#333" font-weight="normal" text-anchor="start" textLength="24.50" lengthAdjust="spacingAndGlyphs" >59.9119</text>
<text x="740.50" y="133.07" font-size="6.8" fill="#333" font-weight="normal" text-anchor="start" textLength="24.50" lengthAdjust="spacingAndGlyphs" >58.2401</text>
<text x="740.50" y="147.13" font-size="6.8" fill="#333" font-weight="normal" text-anchor="start" textLength="24.50" lengthAdjust="spacingAndGlyphs" >56.5684</text>
<text x="740.50" y="161.19" font-size="6.8" fill="#333" font-weight="normal" text-anchor="start" textLength="24.50" lengthAdjust="spacingAndGlyphs" >54.8966</text>
<text x="740.50" y="175.25" font-size="6.8" fill="#333" font-weight="normal" text-anchor="start" textLength="24.50" lengthAdjust="spacingAndGlyphs" >53.2248</text>
<text x="740.50" y="189.31" font-size="6.8" fill="#333" font-weight="normal" text-anchor="start" textLength="24.50" lengthAdjust="spacingAndGlyphs" >51.5531</text>
<text x="740.50" y="203.37" font-size="6.8" fill="#333" font-weight="normal" text-anchor="start" textLength="24.50" lengthAdjust="spacingAndGlyphs" >49.8813</text>
<text x="740.50" y="217.43" font-size="6.8" fill="#333" font-weight="normal" text-anchor="start" textLength="24.50" lengthAdjust="spacingAndGlyphs" >48.2095</text>
<text x="740.50" y="231.49" font-size="6.8" fill="#333" font-weight="normal" text-anchor="start" textLength="24.50" lengthAdjust="spacingAndGlyphs" >46.5377</text>
<text x="740.50" y="245.55" font-size="6.8" fill="#333" font-weight="normal" text-anchor="start" textLength="24.50" lengthAdjust="spacingAndGlyphs" >44.8660</text>
<text x="740.50" y="259.61" font-size="6.8" fill="#333" font-weight="normal" text-anchor="start" textLength="24.50" lengthAdjust="spacingAndGlyphs" >43.1942</text>
<text x="740.50" y="273.67" font-size="6.8" fill="#333" font-weight="normal" text-anchor="start" textLength="24.50" lengthAdjust="spacingAndGlyphs" >41.5224</text>
<text x="740.50" y="287.73" font-size="6.8" fill="#333" font-weight="normal" text-anchor="start" textLength="24.50" lengthAdjust="spacingAndGlyphs" >39.8507</text>
<text x="740.50" y="301.79" font-size="6.8" fill="#333" font-weight="normal" text-anchor="start" textLength="24.50" lengthAdjust="spacingAndGlyphs" >38.1789</text>
<text x="740.50" y="315.85" font-size="6.8" fill="#333" font-weight="normal" text-anchor="start" textLength="24.50" lengthAdjust="spacingAndGlyphs" >36.5071</text>
<text x="740.50" y="329.91" font-size="6.8" fill="#333" font-weight="normal" text-anchor="start" textLength="24.50" lengthAdjust="spacingAndGlyphs" >34.8354</text>
<text x="625.80" y="336.70" font-size="6.8" fill="#333" font-weight="normal" text-anchor="middle" >24</text>
<text x="648.50" y="336.70" font-size="6.8" fill="#333" font-weight="normal" text-anchor="middle" >31</text>
<text x="671.60" y="336.70" font-size="6.8" fill="#333" font-weight="normal" text-anchor="middle" >7</text>
<text x="694.90" y="336.70" font-size="6.8" fill="#333" font-weight="normal" text-anchor="middle" >14</text>
<text x="718.20" y="336.70" font-size="6.8" fill="#333" font-weight="normal" text-anchor="middle" >21</text>
<text x="659.40" y="343.60" font-size="6.8" fill="#333" font-weight="normal" text-anchor="middle" >Nov</text>
</g>
</svg></body></html>
